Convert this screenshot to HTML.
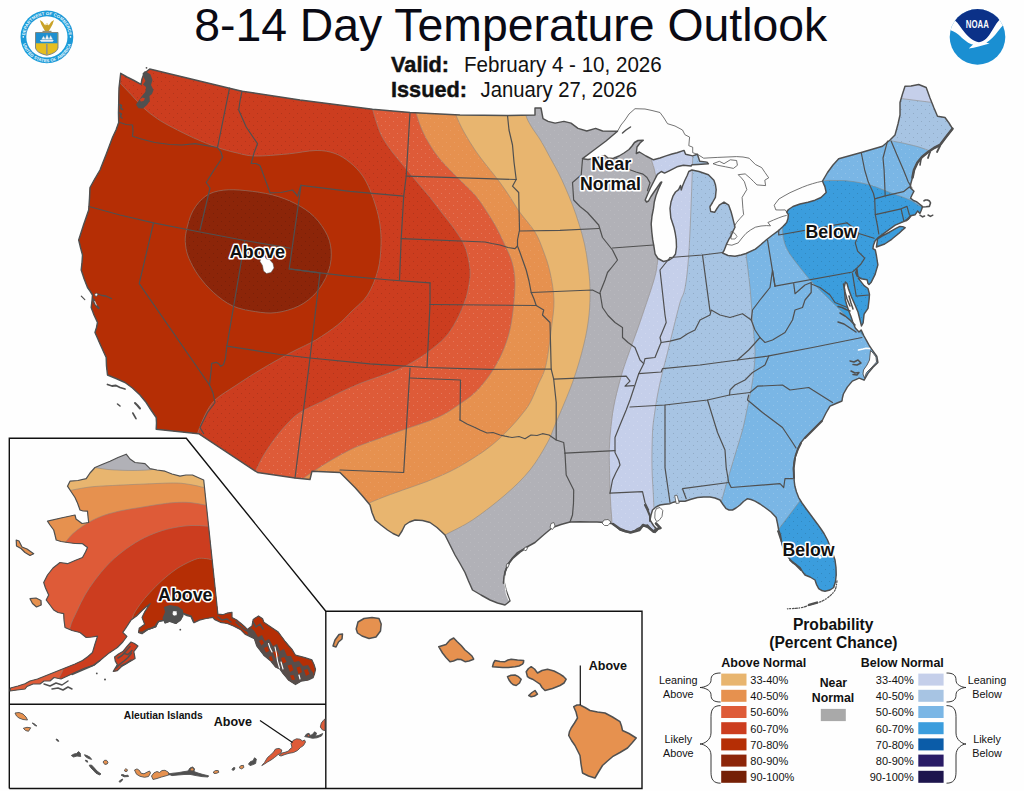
<!DOCTYPE html>
<html><head><meta charset="utf-8"><title>8-14 Day Temperature Outlook</title>
<style>html,body{margin:0;padding:0;background:#fefefe;overflow:hidden}svg{display:block}text{font-family:"Liberation Sans",sans-serif}</style></head><body>
<svg width="1024" height="791" viewBox="0 0 1024 791">
<defs>
<clipPath id="us"><path d="M120.7,73.3 L127.0,77.0 L134.0,80.5 L141.0,84.3 L142.0,79.0 L144.0,73.5 L149.7,69.0 L229.5,88.2 L242.0,91.2 L300.0,100.0 L372.5,109.2 L410.0,112.5 L460.0,115.0 L507.5,115.5 L535.0,115.0 L535.0,108.0 L541.0,108.0 L543.0,118.7 L548.1,121.4 L555.1,123.1 L563.9,121.4 L571.0,123.1 L578.0,128.4 L586.8,131.0 L595.6,128.4 L602.6,131.0 L617.5,131.2 L606.0,141.0 L594.0,150.0 L582.5,158.7 L588.0,159.5 L594.0,158.5 L600.0,157.0 L605.0,155.5 L608.0,158.0 L613.0,158.5 L619.0,156.0 L624.0,153.0 L629.0,149.5 L632.0,146.0 L634.5,142.5 L638.0,140.5 L643.3,140.2 L640.0,143.0 L637.0,147.0 L636.3,153.5 L639.4,152.0 L646.0,156.0 L653.5,159.8 L660.0,158.0 L666.0,155.9 L672.0,154.0 L677.0,152.7 L684.0,150.4 L685.6,154.3 L692.7,155.9 L697.4,154.3 L699.7,161.3 L706.8,162.1 L708.4,163.7 L697.4,164.5 L691.9,164.8 L691.1,166.0 L683.3,165.3 L677.0,166.8 L669.2,170.8 L664.5,173.1 L661.3,171.5 L657.4,174.3 L654.0,181.0 L650.4,188.0 L647.5,194.5 L645.2,200.0 L646.5,202.0 L648.5,201.0 L651.0,196.5 L654.0,192.0 L657.5,187.0 L660.6,182.5 L661.8,182.0 L658.5,189.0 L655.9,195.8 L654.3,202.0 L653.5,208.4 L652.0,216.0 L651.2,224.0 L651.8,232.0 L652.7,239.7 L654.0,247.0 L655.1,254.0 L658.0,258.5 L663.5,261.5 L668.5,260.3 L673.0,257.5 L675.5,254.0 L676.5,247.0 L676.2,239.7 L675.2,233.0 L673.9,227.2 L670.8,217.8 L670.0,208.4 L671.0,202.0 L673.1,195.8 L675.5,192.0 L678.6,189.6 L680.5,185.5 L681.2,190.0 L682.5,186.0 L684.9,180.2 L687.2,175.5 L688.8,171.5 L691.9,170.0 L699.0,171.5 L708.4,174.7 L713.9,180.2 L715.5,185.0 L716.2,189.6 L715.4,197.4 L712.5,202.5 L709.9,206.8 L710.7,211.5 L714.6,212.3 L717.0,208.5 L719.3,205.2 L724.0,202.1 L728.7,205.2 L731.0,211.5 L732.7,217.8 L735.0,227.2 L732.7,231.9 L731.0,236.0 L728.7,239.7 L726.4,244.4 L724.0,250.7 L722.5,253.0 L728.0,255.5 L735.0,256.2 L741.0,255.0 L746.0,253.5 L755.4,249.1 L761.0,244.5 L766.4,239.7 L772.5,235.0 L778.9,230.3 L783.0,226.5 L786.7,222.5 L788.0,218.5 L788.3,214.6 L786.7,212.0 L788.5,209.5 L793.0,206.5 L800.0,204.0 L808.0,202.2 L815.0,200.2 L821.0,197.5 L826.2,192.5 L825.0,187.0 L822.5,181.2 L827.5,172.5 L833.0,165.0 L838.7,158.7 L861.2,152.5 L882.5,146.2 L890.0,140.0 L895.0,135.0 L898.0,124.0 L900.0,115.0 L900.0,102.5 L902.5,94.0 L905.0,86.2 L911.0,86.0 L918.7,84.5 L926.2,87.5 L930.0,98.0 L934.0,108.0 L937.5,116.2 L945.0,117.5 L949.0,123.0 L952.5,128.7 L946.0,137.0 L940.0,145.0 L934.0,148.0 L927.5,152.5 L922.0,157.0 L917.5,162.5 L914.0,170.0 L912.5,177.5 L911.0,183.0 L910.0,187.5 L914.0,191.2 L912.0,195.0 L910.5,198.2 L913.5,200.5 L916.4,201.7 L919.5,204.0 L922.3,206.4 L922.3,207.6 L921.0,211.0 L919.9,213.5 L917.6,211.1 L915.2,214.7 L910.5,215.8 L908.2,219.4 L903.5,221.7 L895.2,225.2 L887.0,231.1 L878.8,237.0 L875.3,240.5 L873.5,245.0 L872.9,248.7 L875.3,250.0 L876.5,256.0 L877.6,263.0 L877.9,264.9 L875.0,274.7 L871.0,282.6 L869.0,284.6 L868.0,283.6 L867.1,279.7 L861.1,278.7 L857.2,276.2 L855.7,272.8 L857.0,269.0 L857.5,274.0 L858.5,278.5 L860.2,280.6 L864.1,285.6 L868.0,288.5 L869.5,294.4 L869.0,300.4 L868.0,308.3 L864.1,314.2 L863.1,323.0 L861.5,326.0 L860.0,320.0 L858.0,312.0 L855.0,305.0 L851.5,297.0 L848.5,289.0 L847.0,283.5 L845.4,282.0 L844.3,287.0 L844.8,294.0 L845.3,300.0 L846.8,305.0 L848.8,311.0 L850.8,316.0 L852.8,322.0 L855.3,328.0 L859.0,332.0 L861.1,329.9 L864.0,336.0 L867.1,341.7 L869.5,346.0 L872.0,349.6 L876.9,356.5 L877.9,362.4 L873.0,367.3 L868.0,373.3 L864.1,380.2 L859.2,378.2 L852.3,381.1 L847.3,387.1 L843.4,394.0 L842.4,398.0 L842.0,401.0 L836.0,403.5 L830.0,406.2 L826.0,413.0 L822.5,420.0 L816.0,426.5 L810.0,432.5 L805.0,437.5 L801.0,442.5 L798.5,447.5 L796.8,452.1 L795.0,458.0 L793.9,463.5 L793.5,469.0 L793.9,474.9 L794.2,481.0 L794.9,486.3 L796.5,492.0 L798.7,497.6 L802.0,503.0 L806.3,509.0 L811.5,516.0 L817.6,524.2 L821.0,529.0 L824.0,533.5 L827.5,540.0 L831.5,550.0 L835.0,560.0 L836.0,567.5 L836.2,575.0 L835.5,581.5 L833.7,587.5 L830.0,590.0 L825.0,591.2 L821.5,590.5 L818.7,588.7 L816.5,584.5 L815.0,580.0 L810.0,577.0 L805.0,575.0 L802.0,571.0 L800.0,567.5 L796.0,564.5 L792.5,562.5 L788.5,557.5 L785.0,552.5 L782.5,546.0 L781.2,540.0 L780.5,535.0 L778.7,530.0 L777.5,523.5 L776.2,517.5 L771.0,512.0 L765.0,507.5 L760.0,504.0 L755.0,501.2 L751.0,499.5 L747.5,498.7 L743.5,501.5 L740.0,505.0 L736.0,508.0 L732.5,510.0 L729.0,510.0 L726.2,508.7 L723.0,504.5 L720.0,500.0 L715.0,498.0 L710.0,497.0 L703.5,497.0 L697.5,497.5 L691.0,499.2 L685.0,501.2 L677.5,501.2 L673.5,502.2 L670.0,503.7 L665.0,504.2 L660.0,505.0 L656.0,507.0 L652.5,510.0 L651.0,515.0 L650.0,520.0 L653.5,525.5 L657.5,530.0 L655.0,532.5 L651.0,529.0 L647.5,525.0 L642.5,526.5 L637.5,528.7 L634.0,531.0 L630.0,532.5 L625.0,531.5 L620.0,530.0 L616.0,526.5 L612.5,523.7 L605.0,522.5 L597.0,522.0 L590.0,522.0 L580.0,521.8 L570.0,522.0 L561.0,524.5 L552.5,527.5 L543.5,535.0 L535.0,542.5 L526.0,547.5 L517.5,552.5 L512.0,558.5 L507.5,565.0 L505.0,572.5 L503.7,580.0 L506.0,590.0 L510.0,601.0 L505.0,605.0 L497.5,603.0 L490.0,600.0 L481.0,595.0 L472.5,590.0 L468.5,581.0 L465.0,572.5 L460.0,563.5 L455.0,555.0 L450.0,545.0 L445.0,535.0 L437.0,527.5 L430.0,522.5 L422.5,520.5 L415.0,520.0 L409.5,522.0 L405.0,525.0 L402.0,531.0 L398.7,536.2 L393.0,533.5 L387.5,530.0 L381.0,525.0 L375.0,520.0 L372.0,512.5 L370.0,505.0 L362.5,496.0 L355.0,487.5 L347.5,480.0 L340.0,472.5 L312.0,471.2 L310.0,479.5 L295.0,478.0 L257.5,472.5 L198.7,433.7 L156.2,429.2 L156.5,423.0 L156.2,417.5 L151.0,410.0 L146.2,402.5 L140.0,395.0 L132.5,388.0 L125.0,382.5 L116.0,378.5 L107.5,375.0 L106.5,366.0 L106.2,357.5 L100.5,345.0 L95.0,332.5 L96.5,327.5 L97.5,322.5 L94.0,315.0 L91.2,307.5 L92.0,301.0 L92.5,295.0 L90.0,291.0 L87.5,287.5 L84.0,278.5 L81.2,270.0 L82.0,262.5 L82.5,255.0 L80.5,247.5 L78.7,240.0 L83.5,225.0 L88.7,210.0 L89.5,198.5 L90.0,187.5 L95.0,178.5 L100.0,170.0 L106.5,153.5 L112.5,137.5 L116.0,130.0 L118.7,122.5 L118.5,113.0 L118.7,103.7 L119.0,88.0Z M876.4,247.0 L877.6,238.9 L882.0,236.2 L887.0,233.5 L892.0,230.7 L896.4,228.2 L899.9,226.4 L902.5,226.6 L905.2,227.6 L902.0,230.5 L898.8,233.5 L895.0,236.5 L891.7,239.3 L884.7,244.0Z"/></clipPath>
<clipPath id="ak"><path d="M126.2,454.2 L130.0,459.0 L135.0,462.5 L145.0,463.7 L150.0,468.7 L157.0,470.0 L165.0,471.2 L172.0,474.0 L180.0,476.2 L186.0,475.0 L192.5,475.0 L198.0,477.5 L203.7,480.0 L217.9,614.1 L222.6,614.7 L227.0,613.2 L232.0,612.3 L232.0,617.6 L236.7,620.0 L241.0,623.5 L245.0,627.0 L247.3,629.4 L252.0,625.9 L253.2,619.4 L258.5,615.9 L262.6,618.8 L263.8,622.3 L270.8,627.0 L277.9,631.7 L281.5,636.5 L284.9,641.1 L288.5,645.5 L292.0,649.4 L295.5,655.2 L304.9,657.6 L311.9,659.9 L314.0,664.5 L315.5,669.3 L314.5,674.0 L313.1,677.6 L308.4,679.9 L301.4,681.1 L295.5,684.6 L288.4,679.9 L282.6,672.9 L280.2,669.3 L275.5,667.0 L270.8,661.1 L263.8,655.2 L256.7,645.8 L254.4,638.8 L245.0,634.1 L240.3,629.4 L233.5,626.0 L227.3,623.5 L220.3,622.3 L214.4,619.4 L213.1,617.4 L206.0,618.5 L199.4,620.1 L194.0,622.8 L191.2,616.0 L183.0,613.3 L181.0,619.0 L176.0,623.5 L170.0,621.0 L165.5,623.0 L163.9,620.1 L158.4,621.5 L155.7,626.9 L147.5,629.7 L142.0,633.8 L138.6,632.4 L139.2,628.3 L144.7,624.2 L142.0,617.4 L144.7,611.9 L150.2,603.7 L146.0,607.0 L142.0,610.5 L136.5,616.0 L131.0,620.1 L125.6,628.3 L122.8,632.4 L126.9,636.5 L122.8,642.0 L117.4,647.5 L109.2,652.9 L100.9,659.8 L94.1,665.2 L85.0,668.0 L76.0,672.0 L67.5,676.0 L61.0,679.0 L54.0,677.5 L50.0,681.0 L44.0,681.0 L40.0,684.0 L33.0,684.0 L27.0,686.5 L25.0,689.0 L17.0,690.0 L10.0,691.0 L10.5,688.0 L18.0,686.0 L25.0,683.7 L30.0,681.0 L37.5,679.0 L45.0,676.0 L52.5,673.0 L60.0,670.0 L67.5,667.0 L75.0,664.0 L82.5,660.5 L88.0,656.5 L92.5,652.5 L95.0,644.0 L97.5,636.2 L92.0,637.0 L86.2,637.5 L80.0,632.5 L72.0,630.5 L65.0,627.5 L64.0,620.0 L63.7,613.7 L58.0,612.5 L53.7,610.0 L50.0,605.0 L46.2,600.0 L48.7,595.0 L45.5,588.0 L43.7,582.5 L47.5,575.0 L53.0,568.0 L60.0,562.5 L67.5,563.7 L75.0,560.5 L82.5,557.5 L85.5,552.0 L87.5,547.5 L82.5,543.7 L75.0,543.5 L67.5,542.5 L61.0,541.5 L56.2,540.0 L55.0,535.0 L53.7,530.0 L50.0,525.0 L47.5,521.2 L61.0,518.0 L75.0,515.0 L76.0,519.0 L82.0,523.5 L88.7,522.5 L88.0,516.5 L87.5,511.2 L83.0,511.0 L80.0,510.0 L77.5,503.0 L75.0,497.5 L71.0,491.5 L67.5,486.2 L70.0,481.2 L78.0,480.5 L86.2,478.7 L90.0,473.0 L95.0,467.5 L102.0,464.5 L110.0,461.2 L118.0,457.5Z M16.2,540.0 L19.0,541.0 L22.0,547.0 L27.0,549.0 L33.7,553.7 L30.0,555.5 L25.0,552.5 L21.0,548.5 L16.5,546.0Z M30.0,598.7 L36.0,598.0 L41.0,600.5 L41.2,605.0 L36.5,607.0 L32.5,603.5Z M114.6,657.0 L118.5,654.0 L122.8,651.6 L127.0,646.5 L131.0,642.0 L134.5,643.5 L137.9,646.1 L133.8,651.6 L135.1,658.4 L128.3,662.5 L121.5,666.6 L117.4,670.7 L113.3,671.4 L117.4,664.6 L115.3,661.1Z"/></clipPath>
<pattern id="pl" width="8" height="8" patternUnits="userSpaceOnUse"><rect x="1" y="1" width="1" height="1" fill="#fff" fill-opacity="0.17"/><rect x="5" y="5" width="1" height="1" fill="#fff" fill-opacity="0.17"/></pattern>
<pattern id="pd" width="8" height="8" patternUnits="userSpaceOnUse"><rect x="1" y="1" width="1" height="1" fill="#000" fill-opacity="0.13"/><rect x="5" y="5" width="1" height="1" fill="#000" fill-opacity="0.13"/></pattern>
<pattern id="pm" width="8" height="8" patternUnits="userSpaceOnUse"><rect x="1" y="1" width="1" height="1" fill="#000" fill-opacity="0.13"/><rect x="5" y="5" width="1" height="1" fill="#000" fill-opacity="0.13"/><rect x="3" y="7" width="1" height="1" fill="#fff" fill-opacity="0.13"/><rect x="7" y="3" width="1" height="1" fill="#fff" fill-opacity="0.13"/></pattern>
<pattern id="pf" width="8" height="8" patternUnits="userSpaceOnUse"><rect x="2" y="2" width="1" height="1" fill="#fff" fill-opacity="0.1"/><rect x="6" y="6" width="1" height="1" fill="#fff" fill-opacity="0.1"/></pattern>
</defs>
<rect x="0" y="0" width="1024" height="791" fill="#fefefe"/>
<g clip-path="url(#us)">
<rect x="60" y="50" width="920" height="580" fill="#b1b1b7"/>
<rect x="60" y="50" width="920" height="580" fill="url(#pf)"/>
<path d="M523.0,100.0 C523.5,102.6 524.7,111.2 526.0,115.5 C527.3,119.8 528.5,121.8 531.0,126.0 C533.5,130.2 537.9,135.9 541.0,141.0 C544.1,146.1 546.7,151.3 549.5,156.5 C552.3,161.7 555.3,166.8 558.0,172.0 C560.7,177.2 563.1,182.5 565.5,188.0 C567.9,193.5 570.2,199.0 572.5,205.0 C574.8,211.0 577.0,217.5 579.0,224.0 C581.0,230.5 583.0,237.2 584.5,244.0 C586.0,250.8 587.1,257.7 588.0,265.0 C588.9,272.3 589.8,279.7 590.0,288.0 C590.2,296.3 590.0,305.5 589.0,315.0 C588.0,324.5 586.5,333.8 583.7,345.0 C581.0,356.2 577.3,369.2 572.5,382.5 C567.7,395.8 559.2,415.0 555.0,425.0 C550.8,435.0 551.7,435.0 547.5,442.5 C543.3,450.0 537.1,461.2 530.0,470.0 C522.9,478.8 514.6,486.7 505.0,495.0 C495.4,503.3 482.5,513.3 472.5,520.0 C462.5,526.7 452.9,530.5 445.0,535.0 C437.1,539.5 428.3,545.0 425.0,547.0 L425.0,700.0 L0.0,700.0 L0.0,0.0 L523.0,0.0Z" fill="#e8b56f" stroke="#8e8780" stroke-opacity="0.8" stroke-width="0.7"/>
<path d="M452.0,100.0 C452.7,102.5 454.0,109.7 456.0,115.0 C458.0,120.3 460.8,126.2 464.0,132.0 C467.2,137.8 471.2,144.3 475.0,150.0 C478.8,155.7 482.8,160.6 487.0,166.0 C491.2,171.4 496.2,177.3 500.0,182.5 C503.8,187.7 506.7,192.0 510.0,197.0 C513.3,202.0 515.8,206.7 520.0,212.5 C524.2,218.3 531.2,225.8 535.0,232.0 C538.8,238.2 540.5,243.3 543.0,250.0 C545.5,256.7 548.2,263.7 550.0,272.0 C551.8,280.3 553.8,290.8 554.0,300.0 C554.2,309.2 552.8,316.7 551.5,327.5 C550.2,338.3 548.2,355.4 546.0,365.0 C543.8,374.6 540.7,378.7 538.0,385.0 C535.3,391.3 532.8,397.9 530.0,403.0 C527.2,408.1 524.2,411.5 521.0,415.5 C517.8,419.5 514.7,423.1 511.0,427.0 C507.3,430.9 503.2,435.2 499.0,439.0 C494.8,442.8 490.7,446.2 485.5,450.0 C480.3,453.8 473.9,457.9 468.0,461.5 C462.1,465.1 456.8,468.2 450.0,471.5 C443.2,474.8 434.8,478.4 427.0,481.5 C419.2,484.6 410.8,487.2 403.0,490.0 C395.2,492.8 386.3,496.0 380.0,498.5 C373.7,501.0 370.0,502.6 365.0,505.0 C360.0,507.4 352.5,511.7 350.0,513.0 L350.0,700.0 L0.0,700.0 L0.0,0.0 L452.0,0.0Z" fill="#e6914f" stroke="#8e8780" stroke-opacity="0.8" stroke-width="0.7"/>
<path d="M452.0,100.0 C452.7,102.5 454.0,109.7 456.0,115.0 C458.0,120.3 460.8,126.2 464.0,132.0 C467.2,137.8 471.2,144.3 475.0,150.0 C478.8,155.7 482.8,160.6 487.0,166.0 C491.2,171.4 496.2,177.3 500.0,182.5 C503.8,187.7 506.7,192.0 510.0,197.0 C513.3,202.0 515.8,206.7 520.0,212.5 C524.2,218.3 531.2,225.8 535.0,232.0 C538.8,238.2 540.5,243.3 543.0,250.0 C545.5,256.7 548.2,263.7 550.0,272.0 C551.8,280.3 553.8,290.8 554.0,300.0 C554.2,309.2 552.8,316.7 551.5,327.5 C550.2,338.3 548.2,355.4 546.0,365.0 C543.8,374.6 540.7,378.7 538.0,385.0 C535.3,391.3 532.8,397.9 530.0,403.0 C527.2,408.1 524.2,411.5 521.0,415.5 C517.8,419.5 514.7,423.1 511.0,427.0 C507.3,430.9 503.2,435.2 499.0,439.0 C494.8,442.8 490.7,446.2 485.5,450.0 C480.3,453.8 473.9,457.9 468.0,461.5 C462.1,465.1 456.8,468.2 450.0,471.5 C443.2,474.8 434.8,478.4 427.0,481.5 C419.2,484.6 410.8,487.2 403.0,490.0 C395.2,492.8 386.3,496.0 380.0,498.5 C373.7,501.0 370.0,502.6 365.0,505.0 C360.0,507.4 352.5,511.7 350.0,513.0 L350.0,700.0 L0.0,700.0 L0.0,0.0 L452.0,0.0Z" fill="url(#pf)"/>
<path d="M412.0,100.0 C412.7,102.2 414.3,108.0 416.0,113.0 C417.7,118.0 419.7,124.7 422.0,130.0 C424.3,135.3 427.2,140.3 430.0,145.0 C432.8,149.7 435.7,153.8 439.0,158.0 C442.3,162.2 446.2,166.0 450.0,170.0 C453.8,174.0 457.8,177.8 462.0,182.0 C466.2,186.2 471.2,190.5 475.0,195.0 C478.8,199.5 481.7,204.0 485.0,209.0 C488.3,214.0 491.8,219.3 495.0,225.0 C498.2,230.7 501.2,236.8 504.0,243.0 C506.8,249.2 510.2,255.3 512.0,262.0 C513.8,268.7 514.9,274.2 515.0,283.0 C515.1,291.8 513.7,306.0 512.5,315.0 C511.3,324.0 510.1,329.9 508.0,337.0 C505.9,344.1 503.2,351.0 500.0,357.5 C496.8,364.0 493.2,370.2 489.0,376.0 C484.8,381.8 480.3,387.5 475.0,392.5 C469.7,397.5 463.2,401.8 457.0,406.0 C450.8,410.2 446.5,413.5 437.5,417.5 C428.5,421.5 412.9,426.4 403.0,430.0 C393.1,433.6 386.0,436.1 378.0,439.0 C370.0,441.9 362.2,444.3 355.0,447.5 C347.8,450.7 341.2,454.5 335.0,458.0 C328.8,461.5 324.2,464.4 317.5,468.7 C310.8,473.0 298.8,481.4 295.0,484.0 L295.0,700.0 L0.0,700.0 L0.0,0.0 L412.0,0.0Z" fill="#de5b38" stroke="#8e8780" stroke-opacity="0.8" stroke-width="0.7"/>
<path d="M412.0,100.0 C412.7,102.2 414.3,108.0 416.0,113.0 C417.7,118.0 419.7,124.7 422.0,130.0 C424.3,135.3 427.2,140.3 430.0,145.0 C432.8,149.7 435.7,153.8 439.0,158.0 C442.3,162.2 446.2,166.0 450.0,170.0 C453.8,174.0 457.8,177.8 462.0,182.0 C466.2,186.2 471.2,190.5 475.0,195.0 C478.8,199.5 481.7,204.0 485.0,209.0 C488.3,214.0 491.8,219.3 495.0,225.0 C498.2,230.7 501.2,236.8 504.0,243.0 C506.8,249.2 510.2,255.3 512.0,262.0 C513.8,268.7 514.9,274.2 515.0,283.0 C515.1,291.8 513.7,306.0 512.5,315.0 C511.3,324.0 510.1,329.9 508.0,337.0 C505.9,344.1 503.2,351.0 500.0,357.5 C496.8,364.0 493.2,370.2 489.0,376.0 C484.8,381.8 480.3,387.5 475.0,392.5 C469.7,397.5 463.2,401.8 457.0,406.0 C450.8,410.2 446.5,413.5 437.5,417.5 C428.5,421.5 412.9,426.4 403.0,430.0 C393.1,433.6 386.0,436.1 378.0,439.0 C370.0,441.9 362.2,444.3 355.0,447.5 C347.8,450.7 341.2,454.5 335.0,458.0 C328.8,461.5 324.2,464.4 317.5,468.7 C310.8,473.0 298.8,481.4 295.0,484.0 L295.0,700.0 L0.0,700.0 L0.0,0.0 L412.0,0.0Z" fill="url(#pl)"/>
<path d="M370.0,98.0 C370.4,99.8 371.3,104.7 372.5,109.0 C373.7,113.3 375.3,119.2 377.0,124.0 C378.7,128.8 379.8,132.7 382.5,137.5 C385.2,142.3 389.2,148.0 393.0,153.0 C396.8,158.0 401.0,162.7 405.0,167.5 C409.0,172.3 412.8,177.0 417.0,182.0 C421.2,187.0 425.8,192.3 430.0,197.5 C434.2,202.7 437.8,207.6 442.0,213.0 C446.2,218.4 451.2,224.3 455.0,230.0 C458.8,235.7 462.5,240.3 465.0,247.0 C467.5,253.7 469.5,262.8 470.0,270.0 C470.5,277.2 469.2,283.8 468.0,290.0 C466.8,296.2 464.7,302.0 462.5,307.5 C460.3,313.0 457.9,318.0 455.0,323.0 C452.1,328.0 449.5,332.7 445.0,337.5 C440.5,342.3 434.2,347.4 428.0,352.0 C421.8,356.6 414.7,361.2 407.5,365.0 C400.3,368.8 392.5,371.6 385.0,374.5 C377.5,377.4 369.5,379.8 362.5,382.5 C355.5,385.2 349.2,388.1 343.0,391.0 C336.8,393.9 332.2,396.4 325.0,400.0 C317.8,403.6 306.3,408.5 300.0,412.5 C293.7,416.5 291.0,419.9 287.0,424.0 C283.0,428.1 279.7,432.2 276.0,437.0 C272.3,441.8 268.2,447.8 265.0,453.0 C261.8,458.2 259.5,462.7 257.0,468.0 C254.5,473.3 251.2,482.2 250.0,485.0 L250.0,700.0 L0.0,700.0 L0.0,0.0 L370.0,0.0Z" fill="#cc3d1f" stroke="#8e8780" stroke-opacity="0.8" stroke-width="0.7"/>
<path d="M370.0,98.0 C370.4,99.8 371.3,104.7 372.5,109.0 C373.7,113.3 375.3,119.2 377.0,124.0 C378.7,128.8 379.8,132.7 382.5,137.5 C385.2,142.3 389.2,148.0 393.0,153.0 C396.8,158.0 401.0,162.7 405.0,167.5 C409.0,172.3 412.8,177.0 417.0,182.0 C421.2,187.0 425.8,192.3 430.0,197.5 C434.2,202.7 437.8,207.6 442.0,213.0 C446.2,218.4 451.2,224.3 455.0,230.0 C458.8,235.7 462.5,240.3 465.0,247.0 C467.5,253.7 469.5,262.8 470.0,270.0 C470.5,277.2 469.2,283.8 468.0,290.0 C466.8,296.2 464.7,302.0 462.5,307.5 C460.3,313.0 457.9,318.0 455.0,323.0 C452.1,328.0 449.5,332.7 445.0,337.5 C440.5,342.3 434.2,347.4 428.0,352.0 C421.8,356.6 414.7,361.2 407.5,365.0 C400.3,368.8 392.5,371.6 385.0,374.5 C377.5,377.4 369.5,379.8 362.5,382.5 C355.5,385.2 349.2,388.1 343.0,391.0 C336.8,393.9 332.2,396.4 325.0,400.0 C317.8,403.6 306.3,408.5 300.0,412.5 C293.7,416.5 291.0,419.9 287.0,424.0 C283.0,428.1 279.7,432.2 276.0,437.0 C272.3,441.8 268.2,447.8 265.0,453.0 C261.8,458.2 259.5,462.7 257.0,468.0 C254.5,473.3 251.2,482.2 250.0,485.0 L250.0,700.0 L0.0,700.0 L0.0,0.0 L370.0,0.0Z" fill="url(#pd)"/>
<path d="M100.0,63.0 C101.7,64.7 106.8,69.8 110.0,73.0 C113.2,76.2 115.5,78.4 119.0,82.0 C122.5,85.6 126.9,90.2 131.0,94.5 C135.1,98.8 139.1,103.8 143.4,107.8 C147.7,111.8 152.2,115.2 157.0,118.5 C161.8,121.8 166.2,124.2 172.5,127.5 C178.8,130.8 187.5,135.2 195.0,138.5 C202.5,141.8 210.8,145.2 217.5,147.5 C224.2,149.8 228.8,151.1 235.0,152.5 C241.2,153.9 246.2,155.8 255.0,156.0 C263.8,156.2 277.3,154.9 287.5,154.0 C297.7,153.1 308.1,150.6 316.0,150.5 C323.9,150.4 329.3,151.5 335.0,153.5 C340.7,155.5 345.5,158.9 350.0,162.5 C354.5,166.1 358.7,170.4 362.0,175.0 C365.3,179.6 367.7,184.7 370.0,190.0 C372.3,195.3 374.3,201.2 376.0,207.0 C377.7,212.8 379.2,218.7 380.0,225.0 C380.8,231.3 381.3,237.5 381.0,245.0 C380.7,252.5 380.2,261.7 378.0,270.0 C375.8,278.3 371.8,288.2 367.5,295.0 C363.2,301.8 357.0,306.0 352.0,311.0 C347.0,316.0 343.6,320.2 337.5,325.0 C331.4,329.8 323.6,335.3 315.7,340.0 C307.8,344.7 299.3,348.0 290.0,353.0 C280.7,358.0 269.2,364.5 260.0,370.0 C250.8,375.5 242.5,381.0 235.0,386.0 C227.5,391.0 220.0,395.2 215.0,400.0 C210.0,404.8 207.8,409.7 205.0,415.0 C202.2,420.3 200.2,426.2 198.0,432.0 C195.8,437.8 193.0,447.0 192.0,450.0 L192.0,700.0 L0.0,700.0 L0.0,0.0 L100.0,0.0Z" fill="#b52e05" stroke="#8e8780" stroke-opacity="0.8" stroke-width="0.7"/>
<path d="M185.6,245.2 C185.1,240.8 184.9,237.6 186.1,231.9 C187.3,226.2 189.5,217.0 192.8,211.0 C196.1,205.0 200.9,199.4 206.0,195.9 C211.1,192.4 216.4,191.1 223.1,190.2 C229.8,189.3 237.7,189.8 245.9,190.6 C254.1,191.4 264.3,192.8 272.5,194.9 C280.7,197.1 288.2,199.9 295.2,203.5 C302.1,207.1 308.8,211.3 314.2,216.7 C319.6,222.1 324.6,229.4 327.5,235.7 C330.4,242.0 331.3,248.4 331.3,254.7 C331.3,261.0 330.0,267.4 327.5,273.7 C325.0,280.0 320.9,287.2 316.1,292.6 C311.4,298.0 305.6,302.6 299.0,305.9 C292.4,309.2 283.6,311.7 276.3,312.6 C269.0,313.6 262.7,312.7 255.4,311.6 C248.1,310.5 239.6,309.1 232.6,305.9 C225.6,302.7 219.3,297.7 213.6,292.6 C207.9,287.6 202.6,281.3 198.5,275.6 C194.4,269.9 191.2,263.6 189.0,258.5 C186.8,253.4 186.1,249.6 185.6,245.2Z" fill="#8c2509" stroke="#8e8780" stroke-opacity="0.8" stroke-width="0.7"/>
<path d="M185.6,245.2 C185.1,240.8 184.9,237.6 186.1,231.9 C187.3,226.2 189.5,217.0 192.8,211.0 C196.1,205.0 200.9,199.4 206.0,195.9 C211.1,192.4 216.4,191.1 223.1,190.2 C229.8,189.3 237.7,189.8 245.9,190.6 C254.1,191.4 264.3,192.8 272.5,194.9 C280.7,197.1 288.2,199.9 295.2,203.5 C302.1,207.1 308.8,211.3 314.2,216.7 C319.6,222.1 324.6,229.4 327.5,235.7 C330.4,242.0 331.3,248.4 331.3,254.7 C331.3,261.0 330.0,267.4 327.5,273.7 C325.0,280.0 320.9,287.2 316.1,292.6 C311.4,298.0 305.6,302.6 299.0,305.9 C292.4,309.2 283.6,311.7 276.3,312.6 C269.0,313.6 262.7,312.7 255.4,311.6 C248.1,310.5 239.6,309.1 232.6,305.9 C225.6,302.7 219.3,297.7 213.6,292.6 C207.9,287.6 202.6,281.3 198.5,275.6 C194.4,269.9 191.2,263.6 189.0,258.5 C186.8,253.4 186.1,249.6 185.6,245.2Z" fill="url(#pd)"/>
<path d="M649.0,135.0 C649.3,138.7 650.0,150.8 651.0,157.0 C652.0,163.2 653.7,165.3 655.0,172.5 C656.3,179.7 658.2,190.4 659.0,200.0 C659.8,209.6 660.2,219.6 660.0,230.0 C659.8,240.4 658.5,254.2 657.5,262.5 C656.5,270.8 656.1,272.5 654.0,280.0 C651.9,287.5 647.7,299.5 645.0,307.5 C642.3,315.5 640.5,320.9 638.0,328.0 C635.5,335.1 632.5,343.0 630.0,350.0 C627.5,357.0 625.1,363.3 623.0,370.0 C620.9,376.7 619.1,383.7 617.5,390.0 C615.9,396.3 614.5,402.2 613.5,408.0 C612.5,413.8 611.9,418.7 611.2,425.0 C610.5,431.3 609.8,439.0 609.5,446.0 C609.2,453.0 609.3,458.0 609.5,467.0 C609.7,476.0 610.1,490.8 610.5,500.0 C610.9,509.2 611.6,515.0 612.0,522.5 C612.4,530.0 612.8,541.2 613.0,545.0 L613.0,700.0 L1024.0,700.0 L1024.0,0.0 L649.0,0.0Z" fill="#c5cfea" stroke="#8e8780" stroke-opacity="0.8" stroke-width="0.7"/>
<path d="M649.0,135.0 C649.3,138.7 650.0,150.8 651.0,157.0 C652.0,163.2 653.7,165.3 655.0,172.5 C656.3,179.7 658.2,190.4 659.0,200.0 C659.8,209.6 660.2,219.6 660.0,230.0 C659.8,240.4 658.5,254.2 657.5,262.5 C656.5,270.8 656.1,272.5 654.0,280.0 C651.9,287.5 647.7,299.5 645.0,307.5 C642.3,315.5 640.5,320.9 638.0,328.0 C635.5,335.1 632.5,343.0 630.0,350.0 C627.5,357.0 625.1,363.3 623.0,370.0 C620.9,376.7 619.1,383.7 617.5,390.0 C615.9,396.3 614.5,402.2 613.5,408.0 C612.5,413.8 611.9,418.7 611.2,425.0 C610.5,431.3 609.8,439.0 609.5,446.0 C609.2,453.0 609.3,458.0 609.5,467.0 C609.7,476.0 610.1,490.8 610.5,500.0 C610.9,509.2 611.6,515.0 612.0,522.5 C612.4,530.0 612.8,541.2 613.0,545.0 L613.0,700.0 L1024.0,700.0 L1024.0,0.0 L649.0,0.0Z" fill="url(#pl)"/>
<path d="M693.0,145.0 C692.9,148.1 692.8,154.1 692.5,163.7 C692.2,173.3 691.8,187.3 691.2,202.5 C690.6,217.7 689.7,240.8 688.7,255.0 C687.7,269.2 686.5,280.1 685.0,288.0 C683.5,295.9 681.9,295.8 680.0,302.5 C678.1,309.2 675.6,319.7 673.5,328.0 C671.4,336.3 669.4,344.8 667.5,352.5 C665.6,360.2 663.7,366.9 662.0,374.0 C660.3,381.1 658.8,388.3 657.5,395.0 C656.2,401.7 655.3,407.8 654.5,414.0 C653.7,420.2 652.9,423.6 652.5,432.5 C652.1,441.4 651.8,456.0 652.0,467.7 C652.2,479.4 653.2,489.6 653.7,502.5 C654.2,515.4 654.8,537.9 655.0,545.0 L655.0,700.0 L1024.0,700.0 L1024.0,0.0 L693.0,0.0Z" fill="#a7c4e3" stroke="#8e8780" stroke-opacity="0.8" stroke-width="0.7"/>
<path d="M693.0,145.0 C692.9,148.1 692.8,154.1 692.5,163.7 C692.2,173.3 691.8,187.3 691.2,202.5 C690.6,217.7 689.7,240.8 688.7,255.0 C687.7,269.2 686.5,280.1 685.0,288.0 C683.5,295.9 681.9,295.8 680.0,302.5 C678.1,309.2 675.6,319.7 673.5,328.0 C671.4,336.3 669.4,344.8 667.5,352.5 C665.6,360.2 663.7,366.9 662.0,374.0 C660.3,381.1 658.8,388.3 657.5,395.0 C656.2,401.7 655.3,407.8 654.5,414.0 C653.7,420.2 652.9,423.6 652.5,432.5 C652.1,441.4 651.8,456.0 652.0,467.7 C652.2,479.4 653.2,489.6 653.7,502.5 C654.2,515.4 654.8,537.9 655.0,545.0 L655.0,700.0 L1024.0,700.0 L1024.0,0.0 L693.0,0.0Z" fill="url(#pd)"/>
<path d="M970.0,168.0 C962.9,165.0 938.0,154.0 927.5,150.0 C917.0,146.0 913.7,145.7 907.0,144.0 C900.3,142.3 897.0,142.2 887.5,140.0 C878.0,137.8 864.6,130.5 850.0,131.0 C835.4,131.5 814.7,134.3 800.0,143.0 C785.3,151.7 771.2,169.3 762.0,183.0 C752.8,196.7 747.6,213.2 745.0,225.0 C742.4,236.8 745.7,246.2 746.2,253.7 C746.7,261.2 747.4,264.4 748.0,270.0 C748.6,275.6 749.2,279.2 750.0,287.5 C750.8,295.8 751.7,309.6 752.5,320.0 C753.3,330.4 754.8,341.3 755.0,350.0 C755.2,358.7 754.4,365.3 753.7,372.0 C753.0,378.7 752.0,384.2 751.0,390.0 C750.0,395.8 748.9,400.3 747.5,407.0 C746.1,413.7 744.6,422.0 742.5,430.0 C740.4,438.0 737.5,446.7 735.0,455.0 C732.5,463.3 729.6,472.9 727.5,480.0 C725.4,487.1 724.4,490.8 722.5,497.5 C720.6,504.2 717.1,516.2 716.0,520.0 L716.0,700.0 L1024.0,700.0 L1024.0,168.0Z" fill="#7ab6e5" stroke="#8e8780" stroke-opacity="0.8" stroke-width="0.7"/>
<path d="M970.0,168.0 C962.9,165.0 938.0,154.0 927.5,150.0 C917.0,146.0 913.7,145.7 907.0,144.0 C900.3,142.3 897.0,142.2 887.5,140.0 C878.0,137.8 864.6,130.5 850.0,131.0 C835.4,131.5 814.7,134.3 800.0,143.0 C785.3,151.7 771.2,169.3 762.0,183.0 C752.8,196.7 747.6,213.2 745.0,225.0 C742.4,236.8 745.7,246.2 746.2,253.7 C746.7,261.2 747.4,264.4 748.0,270.0 C748.6,275.6 749.2,279.2 750.0,287.5 C750.8,295.8 751.7,309.6 752.5,320.0 C753.3,330.4 754.8,341.3 755.0,350.0 C755.2,358.7 754.4,365.3 753.7,372.0 C753.0,378.7 752.0,384.2 751.0,390.0 C750.0,395.8 748.9,400.3 747.5,407.0 C746.1,413.7 744.6,422.0 742.5,430.0 C740.4,438.0 737.5,446.7 735.0,455.0 C732.5,463.3 729.6,472.9 727.5,480.0 C725.4,487.1 724.4,490.8 722.5,497.5 C720.6,504.2 717.1,516.2 716.0,520.0 L716.0,700.0 L1024.0,700.0 L1024.0,168.0Z" fill="url(#pl)"/>
<path d="M880,60 L970,60 L970,107 L932.5,102.5 L902.5,98.7 L880,96Z" fill="#c5cfea" stroke="#8e8780" stroke-opacity="0.8" stroke-width="0.7"/>
<path d="M875.0,350.0 C872.9,347.5 867.5,340.8 862.5,335.0 C857.5,329.2 850.4,320.8 845.0,315.0 C839.6,309.2 835.4,305.4 830.0,300.0 C824.6,294.6 817.5,287.9 812.5,282.5 C807.5,277.1 804.2,272.9 800.0,267.5 C795.8,262.1 790.3,255.4 787.5,250.0 C784.7,244.6 783.6,240.3 783.0,235.0 C782.4,229.7 782.0,224.2 784.0,218.0 C786.0,211.8 791.0,203.1 795.0,198.0 C799.0,192.9 803.4,190.3 808.0,187.5 C812.6,184.7 817.8,182.4 822.5,181.2 C827.2,180.0 831.4,180.5 836.0,180.5 C840.6,180.5 844.3,180.4 850.0,181.2 C855.7,181.9 863.3,183.1 870.0,185.0 C876.7,186.9 883.3,190.0 890.0,192.5 C896.7,195.0 905.0,197.8 910.0,200.0 C915.0,202.2 914.2,203.0 920.0,206.0 C925.8,209.0 935.8,213.2 945.0,218.0 C954.2,222.8 970.0,232.2 975.0,235.0 L1024.0,235.0 L1024.0,350.0Z" fill="#3b9ddd" stroke="#8e8780" stroke-opacity="0.8" stroke-width="0.7"/>
<path d="M875.0,350.0 C872.9,347.5 867.5,340.8 862.5,335.0 C857.5,329.2 850.4,320.8 845.0,315.0 C839.6,309.2 835.4,305.4 830.0,300.0 C824.6,294.6 817.5,287.9 812.5,282.5 C807.5,277.1 804.2,272.9 800.0,267.5 C795.8,262.1 790.3,255.4 787.5,250.0 C784.7,244.6 783.6,240.3 783.0,235.0 C782.4,229.7 782.0,224.2 784.0,218.0 C786.0,211.8 791.0,203.1 795.0,198.0 C799.0,192.9 803.4,190.3 808.0,187.5 C812.6,184.7 817.8,182.4 822.5,181.2 C827.2,180.0 831.4,180.5 836.0,180.5 C840.6,180.5 844.3,180.4 850.0,181.2 C855.7,181.9 863.3,183.1 870.0,185.0 C876.7,186.9 883.3,190.0 890.0,192.5 C896.7,195.0 905.0,197.8 910.0,200.0 C915.0,202.2 914.2,203.0 920.0,206.0 C925.8,209.0 935.8,213.2 945.0,218.0 C954.2,222.8 970.0,232.2 975.0,235.0 L1024.0,235.0 L1024.0,350.0Z" fill="url(#pd)"/>
<path d="M812,485 L769,542 L760,640 L880,640 L880,485Z" fill="#3b9ddd" stroke="#8e8780" stroke-opacity="0.8" stroke-width="0.7"/>
<path d="M812,485 L769,542 L760,640 L880,640 L880,485Z" fill="url(#pd)"/>
</g>
<path d="M617.5,131.2 L621.0,125.0 L625.0,120.0 L629.0,114.0 L635.0,108.7 L645.0,109.0 L652.0,110.5 L660.0,112.5 L664.0,118.0 L667.5,123.7 L675.0,126.0 L682.5,130.0 L684.9,134.7 L689.6,137.1 L688.8,145.7 L692.7,147.2 L692.7,152.7 L697.4,154.3" fill="none" stroke="#505050" stroke-width="0.8" stroke-linejoin="round"/>
<path d="M697.4,154.3 L703.7,158.2 L710.0,157.8 L717.8,157.4 L727.0,157.0 L736.6,156.6 L743.0,157.0 L749.1,158.2 L755.4,164.5 L761.7,167.6 L765.0,172.5 L768.7,177.8 L764.8,180.2 L765.6,185.6 L757.0,184.9 L753.5,181.5 L750.7,178.6 L745.2,173.9 L738.2,174.7 L741.5,178.0 L744.4,181.7 L746.8,189.6 L742.1,197.4 L742.9,208.4 L743.6,214.6 L740.0,218.5 L736.6,222.5 L734.2,226.4" fill="none" stroke="#505050" stroke-width="0.8" stroke-linejoin="round"/>
<path d="M726.4,244.4 L731.9,245.2 L738.2,242.9 L742.0,238.0 L746.0,233.4 L750.5,230.0 L755.4,227.2 L761.0,226.0 L766.4,225.6 L770.5,225.8 L767.9,222.5 L773.5,220.0 L778.9,217.8 L783.0,216.3 L786.7,215.4" fill="none" stroke="#505050" stroke-width="0.8" stroke-linejoin="round"/>
<path d="M786.7,212.0 L785.2,209.9 L780.0,210.0 L775.8,209.9 L774.2,205.2 L778.9,199.0 L784.0,196.0 L790.0,192.7 L796.0,190.0 L802.5,187.2 L807.5,185.3 L812.5,183.7 L817.5,182.3 L822.5,181.2" fill="none" stroke="#505050" stroke-width="0.8" stroke-linejoin="round"/>
<path d="M713.0,163.7 L719.3,161.3 L724.0,163.7 L730.3,159.8 L736.6,160.5 L737.4,165.3 L733.4,168.4 L725.6,166.8 L717.8,165.3Z" fill="none" stroke="#505050" stroke-width="0.8" stroke-linejoin="round"/>
<path d="M731.0,231.5 L735.0,233.5 L737.0,236.5 L735.0,239.0 L731.0,239.0Z" fill="#fefefe" stroke="#505050" stroke-width="0.7"/>
<path d="M261.0,257.5 L264.5,256.0 L266.5,259.0 L269.5,259.5 L273.0,263.5 L274.0,268.0 L271.0,272.5 L266.5,273.5 L263.5,271.0 L262.5,265.5 L260.0,261.5Z" fill="#fefefe" stroke="#505050" stroke-width="0.5"/>
<g fill="none" stroke="#505050" stroke-width="1.2" stroke-linejoin="round" stroke-linecap="round">
<path d="M120.0,122.5 L126.0,124.5 L132.5,125.0 L133.0,131.0 L132.5,136.2 L143.0,139.5 L155.0,142.5 L170.0,144.5 L182.0,145.0 L195.0,143.7 L217.5,147.5"/>
<path d="M229.5,88.2 L217.5,147.5"/>
<path d="M217.5,147.5 L221.0,152.0 L222.5,157.5 L214.0,170.0 L206.2,182.5 L210.0,188.0 L200.0,230.0"/>
<path d="M89.0,206.5 L120.0,215.0 L153.5,222.8 L200.0,232.0 L244.8,240.5 L290.0,248.2"/>
<path d="M242.0,91.2 L240.0,101.0 L238.7,110.0 L246.2,127.0 L257.5,143.7 L254.0,153.0 L251.2,163.5 L256.0,163.5 L260.0,165.5 L265.0,179.0 L270.0,192.8 L281.0,192.5 L292.5,190.0 L297.5,196.0 L301.0,185.3"/>
<path d="M301.0,185.3 L289.2,268.9 L320.0,272.9 L310.0,358.0"/>
<path d="M301.0,185.3 L350.0,191.3 L403.7,196.2"/>
<path d="M410.0,112.5 L406.2,176.2 L403.7,196.2 L401.2,238.7 L399.5,280.0"/>
<path d="M406.2,176.2 L516.2,179.5"/>
<path d="M507.5,115.5 L509.0,130.0 L512.5,145.0 L514.0,162.0 L516.2,179.5"/>
<path d="M516.2,179.5 L512.5,186.2 L518.7,192.5 L519.5,230.0"/>
<path d="M519.5,231.0 L560.0,230.3 L598.7,228.5"/>
<path d="M519.5,230.0 L517.5,240.0 L517.5,246.0 L520.0,252.5 L523.0,261.0 L526.2,270.0 L529.0,281.0 L531.2,292.5 L534.0,299.0 L536.2,305.5"/>
<path d="M401.2,238.7 L485.0,242.0 L492.0,243.5 L500.0,245.0 L508.0,247.5 L515.0,248.7 L517.5,246.0"/>
<path d="M289.2,268.9 L320.0,272.9 L350.0,276.3 L390.0,280.0 L430.0,282.9"/>
<path d="M430.0,282.9 L430.0,304.5"/>
<path d="M430.0,304.5 L536.2,305.5"/>
<path d="M430.0,304.5 L427.0,367.5"/>
<path d="M244.8,240.5 L226.9,346.1"/>
<path d="M153.5,222.8 L139.2,283.7 L209.5,385.0"/>
<path d="M209.5,385.0 L211.2,370.0 L211.7,363.3 L216.3,362.3 L218.8,363.8 L220.8,366.3 L223.4,364.8 L225.4,358.8 L226.9,346.1"/>
<path d="M209.5,385.0 L213.0,393.0 L215.0,402.5 L207.5,412.5 L200.0,427.5 L203.7,433.7"/>
<path d="M226.9,346.1 L280.0,354.5 L310.0,358.0 L370.0,363.8 L427.0,367.5 L490.0,369.3 L551.2,369.2"/>
<path d="M310.0,358.0 L295.0,478.0"/>
<path d="M410.0,368.2 L403.7,472.5 L340.0,470.0"/>
<path d="M410.0,378.0 L460.5,380.0 L460.0,420.0"/>
<path d="M460.0,420.0 L467.0,424.0 L475.0,427.5 L480.0,430.0 L487.0,433.0 L493.0,432.5 L500.0,435.0 L505.0,436.2 L512.0,437.5 L519.0,436.5 L525.0,438.7 L531.0,435.0 L537.0,435.5 L542.5,433.7 L549.0,435.0 L556.2,440.0"/>
<path d="M536.2,305.5 L543.7,310.0 L542.5,315.0 L550.0,322.5 L551.2,369.2 L553.7,379.2 L556.2,402.5 L556.2,440.0 L563.7,442.5 L565.0,453.2"/>
<path d="M531.2,292.5 L592.5,290.0 L600.0,293.7"/>
<path d="M553.7,379.2 L626.2,376.2 L630.0,381.2 L625.0,386.2 L633.7,385.7"/>
<path d="M565.0,453.2 L615.0,450.7"/>
<path d="M565.0,453.2 L566.2,475.0 L573.7,490.0 L573.5,503.0 L572.5,515.0 L570.0,522.0"/>
<path d="M582.5,159.5 L581.2,175.0 L572.5,182.5 L573.7,200.0 L580.0,206.5 L587.5,212.5 L598.7,225.0 L602.5,237.5 L612.5,250.0 L617.5,260.0 L612.0,267.0 L607.5,272.5 L605.0,280.0 L600.0,292.5 L602.5,307.5 L608.0,315.5 L615.0,322.5 L622.5,327.5 L622.5,337.5 L628.0,342.5 L635.0,347.5 L640.0,360.0 L643.7,363.7 L638.7,373.7 L635.0,385.0 L630.0,400.0 L626.2,410.0 L620.0,425.0 L615.0,437.5 L615.0,452.5 L618.7,460.0 L620.0,465.0 L616.0,472.5 L612.5,480.0 L610.0,493.2"/>
<path d="M610.0,493.2 L642.5,491.7 L645.0,502.5 L648.7,510.0"/>
<path d="M612.5,248.0 L653.7,245.0"/>
<path d="M647.4,190.8 L650.0,182.9 L647.0,177.5 L643.0,174.1 L636.0,172.0 L629.8,169.7 L625.4,165.3 L620.0,160.5 L614.9,157.5"/>
<path d="M670.0,257.5 L660.0,270.0 L665.0,315.0 L666.2,322.5 L660.0,337.5 L661.2,342.5"/>
<path d="M670.0,257.5 L702.5,255.0 L722.5,252.5"/>
<path d="M702.5,255.0 L710.0,311.2"/>
<path d="M643.7,363.7 L645.0,358.7 L655.0,357.5 L660.0,345.0 L661.2,342.5 L670.0,341.2 L680.0,338.7 L687.5,333.7 L695.0,330.0 L700.0,320.0 L710.0,315.0 L711.2,310.0 L720.0,315.0 L730.0,317.5 L742.5,313.7 L751.2,320.0 L752.5,310.0 L760.0,300.0 L770.0,287.5 L772.5,270.0 L775.0,286.2"/>
<path d="M767.5,240.0 L775.0,286.2"/>
<path d="M775.0,286.2 L852.5,272.0 L856.2,268.7"/>
<path d="M852.5,273.7 L856.2,296.2 L868.7,295.0"/>
<path d="M847.0,222.9 L851.8,226.4 L858.8,233.5 L855.3,242.9 L857.6,251.1 L864.7,258.1 L861.0,264.0 L856.2,268.7"/>
<path d="M778.7,230.0 L778.7,235.0 L847.0,222.9"/>
<path d="M858.8,233.5 L874.1,238.2"/>
<path d="M793.7,283.7 L795.0,293.7 L805.0,285.0 L811.2,282.5 L811.2,292.5 L805.0,300.0 L802.5,307.5 L795.0,310.0 L792.5,320.0 L785.0,332.5 L772.5,340.0 L765.0,342.5 L760.0,337.5 L755.0,330.0 L751.2,320.0"/>
<path d="M811.2,284.0 L820.0,287.5 L830.0,295.0 L835.0,302.5 L847.5,307.5"/>
<path d="M760.0,337.5 L748.7,350.0 L737.5,360.0"/>
<path d="M638.7,373.7 L661.2,372.0 L662.5,368.7 L700.0,365.0 L737.5,360.0 L767.5,356.2 L812.5,347.5 L862.0,337.5"/>
<path d="M768.7,356.2 L765.0,365.0 L752.5,372.5 L745.0,380.0 L735.0,385.0 L730.0,390.0 L729.5,395.0"/>
<path d="M630.0,407.0 L665.0,405.0 L707.5,400.0 L729.5,395.0 L750.0,392.5"/>
<path d="M750.0,392.5 L757.5,386.2 L782.5,385.0 L790.0,390.0 L808.7,387.5 L832.5,402.5"/>
<path d="M748.7,395.0 L747.5,400.0 L762.5,412.5 L782.5,427.5 L792.5,442.5 L796.0,448.0"/>
<path d="M665.0,405.0 L665.0,467.7 L670.0,502.5"/>
<path d="M707.5,400.0 L717.5,432.5 L725.0,450.0 L726.2,467.5 L728.7,482.5"/>
<path d="M686.2,498.7 L682.5,488.7 L728.7,482.5"/>
<path d="M728.7,482.5 L731.2,487.5 L780.0,483.7 L783.7,487.5 L785.0,478.7 L792.5,478.7"/>
<path d="M861.2,152.5 L864.7,170.0 L868.2,181.8 L873.5,193.5 L874.7,198.8 L875.3,214.7 L877.6,226.4 L878.8,234.0"/>
<path d="M887.5,141.2 L883.0,158.0 L884.1,170.0 L885.2,195.9"/>
<path d="M891.2,141.2 L897.0,155.0 L903.5,170.0 L908.2,181.8 L911.0,186.5"/>
<path d="M874.7,198.8 L885.2,195.9 L903.5,191.7 L909.3,187.0 L912.0,188.0"/>
<path d="M875.3,214.7 L901.1,208.8 L907.0,206.4 L909.3,214.7"/>
<path d="M901.1,208.8 L904.0,221.7"/>
</g>
<path d="M120.7,73.3 L127.0,77.0 L134.0,80.5 L141.0,84.3 L142.0,79.0 L144.0,73.5 L149.7,69.0 L229.5,88.2 L242.0,91.2 L300.0,100.0 L372.5,109.2 L410.0,112.5 L460.0,115.0 L507.5,115.5 L535.0,115.0 L535.0,108.0 L541.0,108.0 L543.0,118.7 L548.1,121.4 L555.1,123.1 L563.9,121.4 L571.0,123.1 L578.0,128.4 L586.8,131.0 L595.6,128.4 L602.6,131.0 L617.5,131.2 L606.0,141.0 L594.0,150.0 L582.5,158.7 L588.0,159.5 L594.0,158.5 L600.0,157.0 L605.0,155.5 L608.0,158.0 L613.0,158.5 L619.0,156.0 L624.0,153.0 L629.0,149.5 L632.0,146.0 L634.5,142.5 L638.0,140.5 L643.3,140.2 L640.0,143.0 L637.0,147.0 L636.3,153.5 L639.4,152.0 L646.0,156.0 L653.5,159.8 L660.0,158.0 L666.0,155.9 L672.0,154.0 L677.0,152.7 L684.0,150.4 L685.6,154.3 L692.7,155.9 L697.4,154.3 L699.7,161.3 L706.8,162.1 L708.4,163.7 L697.4,164.5 L691.9,164.8 L691.1,166.0 L683.3,165.3 L677.0,166.8 L669.2,170.8 L664.5,173.1 L661.3,171.5 L657.4,174.3 L654.0,181.0 L650.4,188.0 L647.5,194.5 L645.2,200.0 L646.5,202.0 L648.5,201.0 L651.0,196.5 L654.0,192.0 L657.5,187.0 L660.6,182.5 L661.8,182.0 L658.5,189.0 L655.9,195.8 L654.3,202.0 L653.5,208.4 L652.0,216.0 L651.2,224.0 L651.8,232.0 L652.7,239.7 L654.0,247.0 L655.1,254.0 L658.0,258.5 L663.5,261.5 L668.5,260.3 L673.0,257.5 L675.5,254.0 L676.5,247.0 L676.2,239.7 L675.2,233.0 L673.9,227.2 L670.8,217.8 L670.0,208.4 L671.0,202.0 L673.1,195.8 L675.5,192.0 L678.6,189.6 L680.5,185.5 L681.2,190.0 L682.5,186.0 L684.9,180.2 L687.2,175.5 L688.8,171.5 L691.9,170.0 L699.0,171.5 L708.4,174.7 L713.9,180.2 L715.5,185.0 L716.2,189.6 L715.4,197.4 L712.5,202.5 L709.9,206.8 L710.7,211.5 L714.6,212.3 L717.0,208.5 L719.3,205.2 L724.0,202.1 L728.7,205.2 L731.0,211.5 L732.7,217.8 L735.0,227.2 L732.7,231.9 L731.0,236.0 L728.7,239.7 L726.4,244.4 L724.0,250.7 L722.5,253.0 L728.0,255.5 L735.0,256.2 L741.0,255.0 L746.0,253.5 L755.4,249.1 L761.0,244.5 L766.4,239.7 L772.5,235.0 L778.9,230.3 L783.0,226.5 L786.7,222.5 L788.0,218.5 L788.3,214.6 L786.7,212.0 L788.5,209.5 L793.0,206.5 L800.0,204.0 L808.0,202.2 L815.0,200.2 L821.0,197.5 L826.2,192.5 L825.0,187.0 L822.5,181.2 L827.5,172.5 L833.0,165.0 L838.7,158.7 L861.2,152.5 L882.5,146.2 L890.0,140.0 L895.0,135.0 L898.0,124.0 L900.0,115.0 L900.0,102.5 L902.5,94.0 L905.0,86.2 L911.0,86.0 L918.7,84.5 L926.2,87.5 L930.0,98.0 L934.0,108.0 L937.5,116.2 L945.0,117.5 L949.0,123.0 L952.5,128.7 L946.0,137.0 L940.0,145.0 L934.0,148.0 L927.5,152.5 L922.0,157.0 L917.5,162.5 L914.0,170.0 L912.5,177.5 L911.0,183.0 L910.0,187.5 L914.0,191.2 L912.0,195.0 L910.5,198.2 L913.5,200.5 L916.4,201.7 L919.5,204.0 L922.3,206.4 L922.3,207.6 L921.0,211.0 L919.9,213.5 L917.6,211.1 L915.2,214.7 L910.5,215.8 L908.2,219.4 L903.5,221.7 L895.2,225.2 L887.0,231.1 L878.8,237.0 L875.3,240.5 L873.5,245.0 L872.9,248.7 L875.3,250.0 L876.5,256.0 L877.6,263.0 L877.9,264.9 L875.0,274.7 L871.0,282.6 L869.0,284.6 L868.0,283.6 L867.1,279.7 L861.1,278.7 L857.2,276.2 L855.7,272.8 L857.0,269.0 L857.5,274.0 L858.5,278.5 L860.2,280.6 L864.1,285.6 L868.0,288.5 L869.5,294.4 L869.0,300.4 L868.0,308.3 L864.1,314.2 L863.1,323.0 L861.5,326.0 L860.0,320.0 L858.0,312.0 L855.0,305.0 L851.5,297.0 L848.5,289.0 L847.0,283.5 L845.4,282.0 L844.3,287.0 L844.8,294.0 L845.3,300.0 L846.8,305.0 L848.8,311.0 L850.8,316.0 L852.8,322.0 L855.3,328.0 L859.0,332.0 L861.1,329.9 L864.0,336.0 L867.1,341.7 L869.5,346.0 L872.0,349.6 L876.9,356.5 L877.9,362.4 L873.0,367.3 L868.0,373.3 L864.1,380.2 L859.2,378.2 L852.3,381.1 L847.3,387.1 L843.4,394.0 L842.4,398.0 L842.0,401.0 L836.0,403.5 L830.0,406.2 L826.0,413.0 L822.5,420.0 L816.0,426.5 L810.0,432.5 L805.0,437.5 L801.0,442.5 L798.5,447.5 L796.8,452.1 L795.0,458.0 L793.9,463.5 L793.5,469.0 L793.9,474.9 L794.2,481.0 L794.9,486.3 L796.5,492.0 L798.7,497.6 L802.0,503.0 L806.3,509.0 L811.5,516.0 L817.6,524.2 L821.0,529.0 L824.0,533.5 L827.5,540.0 L831.5,550.0 L835.0,560.0 L836.0,567.5 L836.2,575.0 L835.5,581.5 L833.7,587.5 L830.0,590.0 L825.0,591.2 L821.5,590.5 L818.7,588.7 L816.5,584.5 L815.0,580.0 L810.0,577.0 L805.0,575.0 L802.0,571.0 L800.0,567.5 L796.0,564.5 L792.5,562.5 L788.5,557.5 L785.0,552.5 L782.5,546.0 L781.2,540.0 L780.5,535.0 L778.7,530.0 L777.5,523.5 L776.2,517.5 L771.0,512.0 L765.0,507.5 L760.0,504.0 L755.0,501.2 L751.0,499.5 L747.5,498.7 L743.5,501.5 L740.0,505.0 L736.0,508.0 L732.5,510.0 L729.0,510.0 L726.2,508.7 L723.0,504.5 L720.0,500.0 L715.0,498.0 L710.0,497.0 L703.5,497.0 L697.5,497.5 L691.0,499.2 L685.0,501.2 L677.5,501.2 L673.5,502.2 L670.0,503.7 L665.0,504.2 L660.0,505.0 L656.0,507.0 L652.5,510.0 L651.0,515.0 L650.0,520.0 L653.5,525.5 L657.5,530.0 L655.0,532.5 L651.0,529.0 L647.5,525.0 L642.5,526.5 L637.5,528.7 L634.0,531.0 L630.0,532.5 L625.0,531.5 L620.0,530.0 L616.0,526.5 L612.5,523.7 L605.0,522.5 L597.0,522.0 L590.0,522.0 L580.0,521.8 L570.0,522.0 L561.0,524.5 L552.5,527.5 L543.5,535.0 L535.0,542.5 L526.0,547.5 L517.5,552.5 L512.0,558.5 L507.5,565.0 L505.0,572.5 L503.7,580.0 L506.0,590.0 L510.0,601.0 L505.0,605.0 L497.5,603.0 L490.0,600.0 L481.0,595.0 L472.5,590.0 L468.5,581.0 L465.0,572.5 L460.0,563.5 L455.0,555.0 L450.0,545.0 L445.0,535.0 L437.0,527.5 L430.0,522.5 L422.5,520.5 L415.0,520.0 L409.5,522.0 L405.0,525.0 L402.0,531.0 L398.7,536.2 L393.0,533.5 L387.5,530.0 L381.0,525.0 L375.0,520.0 L372.0,512.5 L370.0,505.0 L362.5,496.0 L355.0,487.5 L347.5,480.0 L340.0,472.5 L312.0,471.2 L310.0,479.5 L295.0,478.0 L257.5,472.5 L198.7,433.7 L156.2,429.2 L156.5,423.0 L156.2,417.5 L151.0,410.0 L146.2,402.5 L140.0,395.0 L132.5,388.0 L125.0,382.5 L116.0,378.5 L107.5,375.0 L106.5,366.0 L106.2,357.5 L100.5,345.0 L95.0,332.5 L96.5,327.5 L97.5,322.5 L94.0,315.0 L91.2,307.5 L92.0,301.0 L92.5,295.0 L90.0,291.0 L87.5,287.5 L84.0,278.5 L81.2,270.0 L82.0,262.5 L82.5,255.0 L80.5,247.5 L78.7,240.0 L83.5,225.0 L88.7,210.0 L89.5,198.5 L90.0,187.5 L95.0,178.5 L100.0,170.0 L106.5,153.5 L112.5,137.5 L116.0,130.0 L118.7,122.5 L118.5,113.0 L118.7,103.7 L119.0,88.0Z M876.4,247.0 L877.6,238.9 L882.0,236.2 L887.0,233.5 L892.0,230.7 L896.4,228.2 L899.9,226.4 L902.5,226.6 L905.2,227.6 L902.0,230.5 L898.8,233.5 L895.0,236.5 L891.7,239.3 L884.7,244.0Z" fill="none" stroke="#505050" stroke-width="1.45" stroke-linejoin="round"/>
<path d="M622.5,133.0 L626.0,130.0 L630.5,127.0" fill="none" stroke="#505050" stroke-width="1.5" stroke-linejoin="round" stroke-linecap="round"/>
<path d="M98.0,294.0 L102.0,295.5 L106.0,296.0 L111.4,298.6" fill="none" stroke="#505050" stroke-width="1.3" stroke-linejoin="round" stroke-linecap="round"/>
<path d="M93.5,299.5 L94.5,303.0 L96.5,306.0 L98.6,308.0" fill="none" stroke="#505050" stroke-width="2.2" stroke-linejoin="round" stroke-linecap="round"/>
<path d="M81.3,296.1 L84.8,299.6" fill="none" stroke="#505050" stroke-width="1.2" stroke-linejoin="round" stroke-linecap="round"/>
<path d="M107.5,384.5 L112.0,386.0 L116.0,385.5 L120.0,387.5 L125.0,389.0" fill="none" stroke="#505050" stroke-width="1.8" stroke-linejoin="round" stroke-linecap="round"/>
<path d="M117.5,404.0 L120.0,406.0" fill="none" stroke="#505050" stroke-width="1.6" stroke-linejoin="round" stroke-linecap="round"/>
<path d="M135.0,403.0 L137.5,405.5 L140.0,408.5" fill="none" stroke="#505050" stroke-width="2.0" stroke-linejoin="round" stroke-linecap="round"/>
<path d="M132.8,413.0 L134.5,416.0 L136.0,418.7" fill="none" stroke="#505050" stroke-width="1.6" stroke-linejoin="round" stroke-linecap="round"/>
<path d="M613.0,524.0 L620.0,529.0 L625.0,531.0 L630.6,532.5 L636.0,531.0 L639.4,529.9 L643.0,525.0 L648.0,527.0 L653.4,531.6 L657.0,529.0 L660.5,528.1 L656.0,523.5" fill="none" stroke="#505050" stroke-width="2.6" stroke-linejoin="round" stroke-linecap="round"/>
<path d="M645.0,505.0 L647.5,510.0 L650.0,516.0 L650.0,521.0" fill="none" stroke="#505050" stroke-width="2.0" stroke-linejoin="round" stroke-linecap="round"/>
<path d="M952.5,128.7 L946.0,137.0 L940.0,145.0 L934.0,148.0 L927.5,152.5 L922.0,157.0 L917.5,162.5 L914.0,170.0 L912.5,177.5" fill="none" stroke="#505050" stroke-width="2.6" stroke-linejoin="round" stroke-linecap="round"/>
<path d="M940.0,146.0 L937.0,152.0" fill="none" stroke="#505050" stroke-width="1.8" stroke-linejoin="round" stroke-linecap="round"/>
<path d="M930.0,152.0 L928.0,158.0" fill="none" stroke="#505050" stroke-width="1.8" stroke-linejoin="round" stroke-linecap="round"/>
<path d="M921.0,159.0 L920.0,165.0" fill="none" stroke="#505050" stroke-width="1.6" stroke-linejoin="round" stroke-linecap="round"/>
<path d="M795.0,458.0 L793.7,468.0 L794.0,478.0" fill="none" stroke="#505050" stroke-width="2.0" stroke-linejoin="round" stroke-linecap="round"/>
<path d="M801.0,443.0 L798.0,449.0 L795.5,456.0" fill="none" stroke="#505050" stroke-width="2.0" stroke-linejoin="round" stroke-linecap="round"/>
<path d="M822.0,421.0 L816.0,427.0 L810.0,433.0 L805.0,438.0" fill="none" stroke="#505050" stroke-width="2.0" stroke-linejoin="round" stroke-linecap="round"/>
<path d="M778.0,531.0 L781.0,540.0 L784.0,549.0" fill="none" stroke="#505050" stroke-width="1.8" stroke-linejoin="round" stroke-linecap="round"/>
<path d="M790.0,560.0 L796.0,565.0 L801.0,570.0" fill="none" stroke="#505050" stroke-width="1.8" stroke-linejoin="round" stroke-linecap="round"/>
<path d="M503.5,583.0 L505.0,572.0 L508.0,564.5 L513.0,558.0 L520.0,552.0 L526.0,548.0" fill="none" stroke="#505050" stroke-width="1.8" stroke-linejoin="round" stroke-linecap="round"/>
<path d="M910.5,215.8 L909.0,218.0 L906.0,220.5" fill="none" stroke="#505050" stroke-width="2.2" stroke-linejoin="round" stroke-linecap="round"/>
<path d="M674.7,495.5 L677.0,495.2 L679.3,503.0 L676.2,503.6Z" fill="#fefefe" stroke="#505050" stroke-width="0.8" stroke-linejoin="round"/>
<path d="M94.7,294.0 L96.5,293.0 L97.8,294.5 L96.8,296.3 L95.0,296.0Z" fill="#fefefe" stroke="#505050" stroke-width="0.8" stroke-linejoin="round"/>
<path d="M550.0,527.5 L551.0,523.5 L554.0,522.5 L555.0,526.0 L552.5,529.5Z" fill="#fefefe" stroke="#505050" stroke-width="0.8" stroke-linejoin="round"/>
<path d="M523.5,549.5 L525.5,547.0 L527.8,547.5 L526.0,550.8Z" fill="#fefefe" stroke="#505050" stroke-width="0.8" stroke-linejoin="round"/>
<path d="M506.0,566.5 L507.0,563.5 L509.3,564.0 L508.0,567.5Z" fill="#fefefe" stroke="#505050" stroke-width="0.8" stroke-linejoin="round"/>
<path d="M602.0,523.0 L604.0,520.0 L608.0,519.5 L611.0,522.0 L608.0,525.5 L604.5,525.5Z" fill="#fefefe" stroke="#505050" stroke-width="0.8" stroke-linejoin="round"/>
<path d="M656.5,508.5 L660.0,507.5 L662.8,510.5 L662.0,516.5 L659.0,520.5 L656.5,521.5 L654.8,518.0 L655.0,512.0Z" fill="#fefefe" stroke="#505050" stroke-width="0.8" stroke-linejoin="round"/>
<path d="M94.8,301.5 L96.3,305.0" fill="none" stroke="#fefefe" stroke-width="0.8" stroke-linecap="round"/>
<path d="M505.3,576.0 L504.7,585.0 L506.3,594.0 L508.7,600.0" fill="none" stroke="#fefefe" stroke-width="0.9" stroke-linecap="round"/>
<path d="M837.0,580.9 C836.7,582.4 836.4,587.2 835.2,589.7 C834.0,592.2 832.1,594.0 829.9,595.9 C827.7,597.8 824.8,599.9 822.0,601.2 C819.2,602.5 816.4,602.9 813.1,603.9 C809.9,604.9 805.5,606.6 802.5,607.4 C799.5,608.1 797.5,608.2 795.0,608.4 C792.5,608.6 788.7,608.7 787.4,608.8" fill="none" stroke="#505050" stroke-width="1.2" stroke-dasharray="1.5 1.8 0.8 1.6 2.2 1.4" stroke-linecap="round"/>
<path d="M809,604.8 L817,602.6" fill="none" stroke="#505050" stroke-width="2.4" stroke-linecap="round"/>
<circle cx="820" cy="557.3" r="1.5" fill="#fefefe"/>
<path d="M142.5,73.5 L145.0,71.0 L147.5,72.5 L150.5,74.5 L152.5,80.0 L151.0,85.0 L153.5,90.0 L152.0,94.0 L149.5,96.0 L149.8,101.0 L147.0,105.0 L143.0,108.6 L138.5,108.2 L136.0,104.5 L138.5,101.0 L141.5,96.5 L145.3,92.0 L146.0,87.0 L143.0,84.5 L145.5,81.0 L143.5,77.0Z" fill="#505050"/>
<path d="M139.8,99.5 L142.5,97.5 L145.0,98.5 L143.5,101.0 L140.8,101.5Z" fill="#cc3d1f"/>
<circle cx="146.5" cy="67.8" r="0.9" fill="#505050"/>
<path d="M119.5,104.5 L121.5,105.5 L120.5,108.0 L122.5,109.5" fill="none" stroke="#505050" stroke-width="1.6" stroke-linejoin="round" stroke-linecap="round"/>
<path d="M119.3,113.0 L121.3,114.0 L120.3,116.5 L122.0,118.0" fill="none" stroke="#505050" stroke-width="1.6" stroke-linejoin="round" stroke-linecap="round"/>
<path d="M870.5,350.5 L873.0,353.0 L876.0,357.0 L876.5,362.0 L872.0,367.0 L866.5,372.5 L864.5,378.0 L863.0,374.0 L863.5,370.0 L867.0,365.0 L869.5,360.0 L870.0,355.0Z" fill="#fefefe" stroke="#505050" stroke-width="0.9" stroke-linejoin="round"/>
<path d="M858.5,350.0 L863.0,349.0 L866.0,348.2 L869.5,348.5" fill="none" stroke="#fefefe" stroke-width="1.6" stroke-linecap="round"/>
<path d="M850.0,361.0 L854.0,362.0 L858.0,360.0 L861.0,363.0 L857.0,365.0 L853.0,364.5" fill="none" stroke="#505050" stroke-width="1.5" stroke-linejoin="round" stroke-linecap="round"/>
<path d="M851.0,371.0 L855.0,373.0 L859.0,372.5 L857.0,375.0 L853.0,374.5" fill="none" stroke="#505050" stroke-width="1.5" stroke-linejoin="round" stroke-linecap="round"/>
<path d="M838.0,306.5 L842.0,307.5 L846.0,309.5 L850.0,311.0" fill="none" stroke="#505050" stroke-width="1.5" stroke-linejoin="round" stroke-linecap="round"/>
<path d="M840.0,313.0 L845.0,316.0 L850.0,320.0 L855.0,325.0" fill="none" stroke="#505050" stroke-width="1.5" stroke-linejoin="round" stroke-linecap="round"/>
<path d="M838.0,322.0 L844.0,324.0 L850.0,328.0 L856.0,332.0" fill="none" stroke="#505050" stroke-width="1.5" stroke-linejoin="round" stroke-linecap="round"/>
<path d="M849.0,296.0 L851.0,303.0 L853.0,309.0" fill="none" stroke="#505050" stroke-width="1.5" stroke-linejoin="round" stroke-linecap="round"/>
<path d="M843.5,284.0 L845.0,292.0 L847.0,299.0 L850.0,306.0" fill="none" stroke="#505050" stroke-width="1.5" stroke-linejoin="round" stroke-linecap="round"/>
<path d="M922.3,207.0 L926.0,206.8 L929.3,206.4 L930.5,202.9 L929.5,201.0 L927.5,200.0 L925.5,200.0 L924.0,200.8" fill="none" stroke="#505050" stroke-width="1.6" stroke-linejoin="round" stroke-linecap="round"/>
<path d="M920.0,215.2 L922.5,216.8 L924.6,216.0" fill="none" stroke="#505050" stroke-width="1.5" stroke-linecap="round"/>
<path d="M928.0,215.0 L930.5,216.4 L932.8,215.2" fill="none" stroke="#505050" stroke-width="1.5" stroke-linecap="round"/>
<g fill="none" stroke="#111" stroke-width="1.4">
<path d="M9.3,788.5 L9.3,438.3 L186.3,438.3 L325.8,611.3 L642,611.3 L642,788.5 L9.3,788.5"/>
<path d="M325.8,611.3 L325.8,788.5"/><path d="M9.3,704.3 L325.8,704.3"/>
</g>
<g clip-path="url(#ak)">
<rect x="0" y="440" width="330" height="260" fill="#b1b1b7"/>
<path d="M90.0,466.0 C90.8,466.2 92.0,466.9 95.0,467.5 C98.0,468.1 103.8,469.1 108.0,469.5 C112.2,469.9 115.7,470.0 120.0,470.2 C124.3,470.4 129.4,470.5 134.0,470.5 C138.6,470.5 144.0,470.2 147.5,470.0 C151.0,469.8 153.8,469.2 155.0,469.0 L330.0,469.0 L330.0,700.0 L0.0,700.0 L0.0,466.0Z" fill="#e8b56f" stroke="#8e8780" stroke-opacity="0.8" stroke-width="0.7"/>
<path d="M60.0,493.0 C62.1,492.5 67.5,491.0 72.5,490.0 C77.5,489.0 83.3,487.8 90.0,487.0 C96.7,486.2 103.3,486.0 112.5,485.5 C121.7,485.0 134.6,484.4 145.0,484.0 C155.4,483.6 167.5,482.9 175.0,483.0 C182.5,483.1 185.2,483.8 190.0,484.5 C194.8,485.2 199.5,486.4 203.7,487.5 C207.9,488.6 213.1,490.4 215.0,491.0 L330.0,491.0 L330.0,700.0 L0.0,700.0 L0.0,493.0Z" fill="#e6914f" stroke="#8e8780" stroke-opacity="0.8" stroke-width="0.7"/>
<path d="M0.0,676.0 C3.0,674.0 12.7,669.2 18.0,664.0 C23.3,658.8 28.5,652.7 32.0,645.0 C35.5,637.3 37.3,626.8 39.0,618.0 C40.7,609.2 40.7,600.0 42.0,592.0 C43.3,584.0 44.8,576.2 47.0,570.0 C49.2,563.8 51.8,559.8 55.0,555.0 C58.2,550.2 63.2,544.8 66.2,541.2 C69.2,537.6 70.3,536.0 73.0,533.5 C75.7,531.0 79.2,528.5 82.5,526.2 C85.8,524.0 89.2,521.9 93.0,520.0 C96.8,518.1 100.2,516.6 105.0,515.0 C109.8,513.4 116.2,511.8 122.0,510.5 C127.8,509.2 134.0,508.5 140.0,507.5 C146.0,506.5 152.2,505.3 158.0,504.5 C163.8,503.7 169.7,502.8 175.0,502.5 C180.3,502.2 185.0,502.1 190.0,502.5 C195.0,502.9 200.0,504.1 205.0,505.0 C210.0,505.9 217.5,507.5 220.0,508.0 L330.0,508.0 L330.0,700.0 L0.0,700.0Z" fill="#de5b38" stroke="#8e8780" stroke-opacity="0.8" stroke-width="0.7"/>
<path d="M50.0,692.0 C52.1,688.5 59.5,678.3 62.5,671.0 C65.5,663.7 66.8,655.2 68.0,648.0 C69.2,640.8 68.5,633.9 70.0,627.7 C71.5,621.5 74.5,616.5 77.0,611.0 C79.5,605.5 82.0,600.2 85.0,595.0 C88.0,589.8 91.2,585.0 95.0,580.0 C98.8,575.0 103.0,569.7 107.5,565.0 C112.0,560.3 116.6,556.2 122.0,552.0 C127.4,547.8 134.0,543.3 140.0,540.0 C146.0,536.7 152.2,534.1 158.0,532.0 C163.8,529.9 169.5,528.6 175.0,527.5 C180.5,526.4 185.6,525.7 191.0,525.5 C196.4,525.3 201.8,525.6 207.5,526.2 C213.2,526.8 222.1,528.5 225.0,529.0 L330.0,529.0 L330.0,700.0 L50.0,700.0Z" fill="#cc3d1f" stroke="#8e8780" stroke-opacity="0.8" stroke-width="0.7"/>
<path d="M140.0,688.0 C139.9,682.5 140.0,662.8 139.5,655.0 C139.0,647.2 137.9,645.3 137.0,641.0 C136.1,636.7 134.8,632.9 134.0,629.0 C133.2,625.1 131.5,621.6 132.5,617.5 C133.5,613.4 137.1,608.7 140.0,604.5 C142.9,600.3 146.3,596.5 150.0,592.5 C153.7,588.5 157.8,584.2 162.0,580.5 C166.2,576.8 171.0,572.8 175.0,570.0 C179.0,567.2 182.2,565.4 186.0,563.5 C189.8,561.6 194.3,559.5 197.5,558.7 C200.7,557.9 202.5,558.3 205.0,558.5 C207.5,558.7 209.2,559.1 212.5,560.0 C215.8,560.9 222.9,563.3 225.0,564.0 L330.0,564.0 L330.0,700.0 L140.0,700.0Z" fill="#b52e05" stroke="#8e8780" stroke-opacity="0.8" stroke-width="0.7"/>
</g>
<path d="M126.2,454.2 L130.0,459.0 L135.0,462.5 L145.0,463.7 L150.0,468.7 L157.0,470.0 L165.0,471.2 L172.0,474.0 L180.0,476.2 L186.0,475.0 L192.5,475.0 L198.0,477.5 L203.7,480.0 L217.9,614.1 L222.6,614.7 L227.0,613.2 L232.0,612.3 L232.0,617.6 L236.7,620.0 L241.0,623.5 L245.0,627.0 L247.3,629.4 L252.0,625.9 L253.2,619.4 L258.5,615.9 L262.6,618.8 L263.8,622.3 L270.8,627.0 L277.9,631.7 L281.5,636.5 L284.9,641.1 L288.5,645.5 L292.0,649.4 L295.5,655.2 L304.9,657.6 L311.9,659.9 L314.0,664.5 L315.5,669.3 L314.5,674.0 L313.1,677.6 L308.4,679.9 L301.4,681.1 L295.5,684.6 L288.4,679.9 L282.6,672.9 L280.2,669.3 L275.5,667.0 L270.8,661.1 L263.8,655.2 L256.7,645.8 L254.4,638.8 L245.0,634.1 L240.3,629.4 L233.5,626.0 L227.3,623.5 L220.3,622.3 L214.4,619.4 L213.1,617.4 L206.0,618.5 L199.4,620.1 L194.0,622.8 L191.2,616.0 L183.0,613.3 L181.0,619.0 L176.0,623.5 L170.0,621.0 L165.5,623.0 L163.9,620.1 L158.4,621.5 L155.7,626.9 L147.5,629.7 L142.0,633.8 L138.6,632.4 L139.2,628.3 L144.7,624.2 L142.0,617.4 L144.7,611.9 L150.2,603.7 L146.0,607.0 L142.0,610.5 L136.5,616.0 L131.0,620.1 L125.6,628.3 L122.8,632.4 L126.9,636.5 L122.8,642.0 L117.4,647.5 L109.2,652.9 L100.9,659.8 L94.1,665.2 L85.0,668.0 L76.0,672.0 L67.5,676.0 L61.0,679.0 L54.0,677.5 L50.0,681.0 L44.0,681.0 L40.0,684.0 L33.0,684.0 L27.0,686.5 L25.0,689.0 L17.0,690.0 L10.0,691.0 L10.5,688.0 L18.0,686.0 L25.0,683.7 L30.0,681.0 L37.5,679.0 L45.0,676.0 L52.5,673.0 L60.0,670.0 L67.5,667.0 L75.0,664.0 L82.5,660.5 L88.0,656.5 L92.5,652.5 L95.0,644.0 L97.5,636.2 L92.0,637.0 L86.2,637.5 L80.0,632.5 L72.0,630.5 L65.0,627.5 L64.0,620.0 L63.7,613.7 L58.0,612.5 L53.7,610.0 L50.0,605.0 L46.2,600.0 L48.7,595.0 L45.5,588.0 L43.7,582.5 L47.5,575.0 L53.0,568.0 L60.0,562.5 L67.5,563.7 L75.0,560.5 L82.5,557.5 L85.5,552.0 L87.5,547.5 L82.5,543.7 L75.0,543.5 L67.5,542.5 L61.0,541.5 L56.2,540.0 L55.0,535.0 L53.7,530.0 L50.0,525.0 L47.5,521.2 L61.0,518.0 L75.0,515.0 L76.0,519.0 L82.0,523.5 L88.7,522.5 L88.0,516.5 L87.5,511.2 L83.0,511.0 L80.0,510.0 L77.5,503.0 L75.0,497.5 L71.0,491.5 L67.5,486.2 L70.0,481.2 L78.0,480.5 L86.2,478.7 L90.0,473.0 L95.0,467.5 L102.0,464.5 L110.0,461.2 L118.0,457.5Z M16.2,540.0 L19.0,541.0 L22.0,547.0 L27.0,549.0 L33.7,553.7 L30.0,555.5 L25.0,552.5 L21.0,548.5 L16.5,546.0Z M30.0,598.7 L36.0,598.0 L41.0,600.5 L41.2,605.0 L36.5,607.0 L32.5,603.5Z M114.6,657.0 L118.5,654.0 L122.8,651.6 L127.0,646.5 L131.0,642.0 L134.5,643.5 L137.9,646.1 L133.8,651.6 L135.1,658.4 L128.3,662.5 L121.5,666.6 L117.4,670.7 L113.3,671.4 L117.4,664.6 L115.3,661.1Z" fill="none" stroke="#505050" stroke-width="1.2" stroke-linejoin="round"/>
<path d="M251.0,628.0 L254.4,631.0 L258.0,637.0 L262.0,635.0 L265.0,641.0 L269.0,639.0 L273.0,646.0 L277.0,644.0 L280.0,651.0 L284.0,649.0 L287.0,656.0 L291.0,656.0 L294.0,662.0 L299.0,661.0 L303.0,666.0 L308.0,665.0 L311.0,670.0 L313.5,673.0 L313.1,677.6 L308.4,679.9 L301.4,681.1 L295.5,684.6 L288.4,679.9 L282.6,672.9 L280.2,669.3 L275.5,667.0 L270.8,661.1 L263.8,655.2 L256.7,645.8 L254.4,638.8 L248.0,635.5 L247.0,630.0Z" fill="#505050" fill-opacity="0.92"/>
<path d="M259.0,641.0 L262.0,639.5 L264.0,643.0 L261.5,645.5Z" fill="#b52e05"/>
<path d="M264.0,648.0 L267.5,646.5 L269.0,651.0 L266.0,652.5Z" fill="#b52e05"/>
<path d="M273.0,652.0 L277.0,651.0 L279.0,656.0 L275.5,658.0Z" fill="#b52e05"/>
<path d="M281.0,658.0 L284.5,657.0 L286.5,662.0 L283.0,663.5Z" fill="#b52e05"/>
<path d="M287.5,665.5 L291.5,664.5 L293.5,670.0 L290.0,672.0Z" fill="#b52e05"/>
<path d="M296.5,667.5 L300.0,666.5 L302.0,672.0 L298.5,674.0Z" fill="#b52e05"/>
<path d="M304.0,670.0 L307.5,669.0 L309.5,674.0 L306.0,676.0Z" fill="#b52e05"/>
<path d="M290.0,675.5 L293.5,675.0 L295.0,679.5 L292.0,680.0Z" fill="#b52e05"/>
<path d="M269.0,657.0 L271.5,656.0 L273.0,660.5 L270.5,661.0Z" fill="#b52e05"/>
<path d="M275.0,647.0 L276.5,654.0 L277.5,661.0 L279.5,668.0" fill="none" stroke="#fefefe" stroke-width="1.1" stroke-linecap="round"/>
<path d="M268.5,643.5 L270.0,648.0 L272.0,652.0" fill="none" stroke="#fefefe" stroke-width="1.1" stroke-linecap="round"/>
<path d="M281.0,662.0 L283.0,669.0" fill="none" stroke="#fefefe" stroke-width="1.1" stroke-linecap="round"/>
<path d="M299.0,675.0 L300.0,679.0" fill="none" stroke="#fefefe" stroke-width="1.1" stroke-linecap="round"/>
<path d="M163.9,607.0 L170.0,605.0 L178.0,606.5 L183.0,610.0 L183.5,616.0 L180.5,621.0 L175.5,624.0 L169.5,622.0 L164.5,623.5 L162.5,618.0 L165.0,612.0Z" fill="#505050"/>
<path d="M172.5,613.3 L177,613.3 M174.8,611 L174.8,615.8 M173,611.5 L176.5,615 M176.5,611.5 L173,615" stroke="#fefefe" stroke-width="1.1" fill="none"/>
<circle cx="180.3" cy="629.7" r="0.9" fill="#505050"/><circle cx="96.8" cy="673.4" r="0.9" fill="#505050"/><circle cx="105" cy="679.6" r="1" fill="#505050"/>
<path d="M116.0,668.0 L120.0,664.0 L124.0,661.0 L128.0,657.5 L131.5,653.0" fill="none" stroke="#505050" stroke-width="1.5" stroke-linejoin="round" stroke-linecap="round"/>
<path d="M118.0,658.0 L122.0,655.5 L126.0,651.0 L130.0,646.5" fill="none" stroke="#505050" stroke-width="1.5" stroke-linejoin="round" stroke-linecap="round"/>
<path d="M121.0,666.0 L126.0,663.5 L131.0,660.0" fill="none" stroke="#505050" stroke-width="1.5" stroke-linejoin="round" stroke-linecap="round"/>
<path d="M124.0,653.5 L128.0,654.5 L132.0,650.5" fill="none" stroke="#505050" stroke-width="1.5" stroke-linejoin="round" stroke-linecap="round"/>
<path d="M44.0,684.0 L50.0,686.0 L56.0,683.0 L62.0,685.0 L68.0,681.0" fill="none" stroke="#505050" stroke-width="1.5" stroke-linejoin="round" stroke-linecap="round"/>
<path d="M52.0,689.0 L58.0,688.0 L63.0,690.0 L68.0,687.0 L72.0,689.0" fill="none" stroke="#505050" stroke-width="1.5" stroke-linejoin="round" stroke-linecap="round"/>
<path d="M72.0,674.5 L79.0,671.5 L86.0,668.5 L93.0,665.5 L100.0,660.5" fill="none" stroke="#505050" stroke-width="1.5" stroke-linejoin="round" stroke-linecap="round"/>
<path d="M218.0,617.0 L222.0,620.0 L227.0,619.0 L231.0,622.0" fill="none" stroke="#505050" stroke-width="1.5" stroke-linejoin="round" stroke-linecap="round"/>
<path d="M236.0,622.0 L240.0,626.0 L245.0,630.0 L250.0,632.0" fill="none" stroke="#505050" stroke-width="1.5" stroke-linejoin="round" stroke-linecap="round"/>
<path d="M253.0,622.0 L256.0,627.0 L260.0,624.0 L263.0,629.0" fill="none" stroke="#505050" stroke-width="1.5" stroke-linejoin="round" stroke-linecap="round"/>
<path d="M139.0,632.5 L143.0,632.0 L147.5,629.5 L152.0,628.0 L156.0,626.0" fill="none" stroke="#505050" stroke-width="1.5" stroke-linejoin="round" stroke-linecap="round"/>
<path d="M156.0,625.0 L158.5,621.5 L163.0,620.5" fill="none" stroke="#505050" stroke-width="1.5" stroke-linejoin="round" stroke-linecap="round"/>
<path d="M183.0,613.5 L187.0,615.5 L191.0,616.5 L193.5,622.0" fill="none" stroke="#505050" stroke-width="1.5" stroke-linejoin="round" stroke-linecap="round"/>
<path d="M15.0,713.0 L19.0,712.5 L23.0,714.0 L26.0,717.0 L27.5,720.0 L23.0,719.5 L19.0,718.0 L16.5,716.0Z" fill="#e6914f" stroke="#505050" stroke-width="0.9" stroke-linejoin="round"/>
<path d="M32.2,723.0 L34.0,723.6 L36.9,726.0 L35.0,725.6Z" fill="#505050" stroke="#505050" stroke-width="0.9" stroke-linejoin="round"/>
<path d="M23.3,728.3 L27.0,727.3 L30.7,727.8 L28.5,731.3 L25.5,730.5Z" fill="#e6914f" stroke="#505050" stroke-width="0.9" stroke-linejoin="round"/>
<path d="M56.0,739.0 L57.8,739.6 L58.8,741.4 L57.0,740.8Z" fill="#505050" stroke="#505050" stroke-width="0.9" stroke-linejoin="round"/>
<path d="M71.3,755.5 L74.0,754.0 L76.5,753.5 L78.5,751.6 L80.2,753.0 L80.7,756.5 L77.0,756.0 L73.5,757.0Z" fill="#505050" stroke="#505050" stroke-width="0.9" stroke-linejoin="round"/>
<path d="M84.5,754.7 L87.0,755.6 L90.0,757.2 L91.6,759.4 L88.5,758.5 L85.5,756.6Z" fill="#505050" stroke="#505050" stroke-width="0.9" stroke-linejoin="round"/>
<path d="M85.3,760.2 L87.2,760.6 L87.8,762.2 L86.0,761.6Z" fill="#505050" stroke="#505050" stroke-width="0.9" stroke-linejoin="round"/>
<path d="M89.2,765.2 L91.5,765.0 L94.0,767.6 L97.0,771.0 L101.0,774.0 L99.5,774.9 L96.0,773.2 L93.0,770.0 L90.5,767.5Z" fill="#505050" stroke="#505050" stroke-width="0.9" stroke-linejoin="round"/>
<path d="M103.0,762.0 L104.5,760.3 L106.5,760.3 L108.0,762.2 L107.2,764.0 L104.8,764.4Z" fill="#e6914f" stroke="#505050" stroke-width="0.9" stroke-linejoin="round"/>
<path d="M124.4,770.0 L125.8,768.7 L127.5,769.8 L126.8,771.5 L125.0,771.4Z" fill="#e6914f" stroke="#505050" stroke-width="0.9" stroke-linejoin="round"/>
<path d="M119.0,781.5 L120.5,780.0 L122.8,779.0 L121.8,781.0 L120.0,782.3Z" fill="#505050" stroke="#505050" stroke-width="0.9" stroke-linejoin="round"/>
<path d="M121.0,775.0 L123.0,774.5 L125.0,775.6 L128.0,775.2 L128.5,776.5 L124.0,776.8Z" fill="#505050" stroke="#505050" stroke-width="0.9" stroke-linejoin="round"/>
<path d="M134.5,770.0 L137.0,768.9 L139.5,770.5 L141.0,773.2 L144.0,773.8 L147.0,772.2 L149.5,771.0 L150.5,773.0 L148.5,776.5 L144.5,777.3 L140.0,776.3 L136.5,774.2Z" fill="#e6914f" stroke="#505050" stroke-width="0.9" stroke-linejoin="round"/>
<path d="M151.5,776.0 L154.0,772.8 L157.0,771.5 L159.5,772.5 L162.0,770.5 L165.0,770.3 L168.0,772.0 L170.0,774.5 L166.0,775.8 L161.5,777.0 L157.0,778.5 L153.0,779.5Z" fill="#e6914f" stroke="#505050" stroke-width="0.9" stroke-linejoin="round"/>
<path d="M168.0,774.0 L173.0,773.2 L178.0,772.7 L183.0,771.8 L188.0,771.0 L190.0,768.0 L192.5,767.0 L194.5,768.7 L194.0,771.5 L198.0,773.0 L203.0,774.5 L208.6,775.8 L208.0,777.0 L202.0,776.6 L196.0,775.6 L190.0,774.4 L184.0,774.5 L178.0,775.0 L172.0,775.6Z" fill="#505050" stroke="#505050" stroke-width="0.9" stroke-linejoin="round"/>
<path d="M190.2,769.4 L191.5,767.8 L193.3,767.9 L194.0,769.6 L192.8,771.0 L191.0,770.9Z" fill="#e6914f" stroke="#505050" stroke-width="0.9" stroke-linejoin="round"/>
<path d="M213.3,772.0 L215.5,770.5 L218.3,770.6 L218.8,772.3 L216.3,773.4 L214.0,773.4Z" fill="#e6914f" stroke="#505050" stroke-width="0.9" stroke-linejoin="round"/>
<path d="M232.0,769.3 L233.5,767.6 L235.0,767.8 L234.3,769.8 L232.8,770.4Z" fill="#505050" stroke="#505050" stroke-width="0.9" stroke-linejoin="round"/>
<path d="M239.0,767.5 L241.0,765.6 L243.5,765.4 L243.8,767.5 L241.5,768.9Z" fill="#e6914f" stroke="#505050" stroke-width="0.9" stroke-linejoin="round"/>
<path d="M248.5,764.0 L250.5,761.5 L253.0,760.8 L254.5,757.8 L256.3,759.0 L255.6,763.5 L252.5,764.8 L250.0,765.6Z" fill="#505050" stroke="#505050" stroke-width="0.9" stroke-linejoin="round"/>
<path d="M261.8,765.6 L264.5,762.5 L267.5,757.5 L270.5,755.0 L273.5,752.0 L275.5,749.0 L279.0,748.4 L281.8,750.0 L281.0,753.0 L277.5,755.0 L274.5,757.5 L271.0,760.0 L267.5,762.0 L264.5,764.0Z" fill="#de5b38" stroke="#505050" stroke-width="0.9" stroke-linejoin="round"/>
<path d="M279.0,755.3 L282.0,753.0 L285.0,752.3 L288.5,751.0 L290.0,749.0 L292.0,747.5 L291.0,743.5 L293.0,740.5 L296.5,738.8 L300.0,739.2 L302.5,741.0 L304.5,740.0 L305.5,742.0 L303.5,745.5 L300.5,747.5 L297.5,750.5 L293.5,752.5 L289.0,753.3 L285.0,754.5 L281.0,756.0Z" fill="#de5b38" stroke="#505050" stroke-width="0.9" stroke-linejoin="round"/>
<path d="M304.7,736.6 L306.5,734.0 L309.0,733.3 L310.5,735.5 L313.0,734.0 L314.5,731.8 L316.5,733.0 L315.5,736.2 L319.0,735.3 L322.7,733.5 L321.5,736.0 L317.0,737.8 L312.5,738.3 L308.5,737.3Z" fill="#505050" stroke="#505050" stroke-width="0.9" stroke-linejoin="round"/>
<path d="M307.0,735.8 L308.5,734.3 L309.8,735.5 L308.8,737.0Z" fill="#de5b38" stroke="#505050" stroke-width="0.9" stroke-linejoin="round"/>
<path d="M320.3,727.0 L321.3,723.0 L323.3,720.5 L325.0,718.8 L325.0,730.5 L322.5,730.0Z" fill="#de5b38" stroke="#505050" stroke-width="0.9" stroke-linejoin="round"/>
<path d="M333.0,646.0 L335.0,640.0 L339.0,634.5 L342.5,634.0 L342.0,639.0 L338.5,642.0 L336.0,647.0Z" fill="#e6914f" stroke="#505050" stroke-width="1.5" stroke-linejoin="round"/>
<path d="M356.2,629.0 L358.0,622.0 L364.0,618.5 L372.0,617.5 L379.0,618.5 L381.2,624.0 L380.5,631.0 L376.0,637.0 L369.0,638.5 L362.0,636.0 L357.5,633.0Z" fill="#e6914f" stroke="#505050" stroke-width="1.5" stroke-linejoin="round"/>
<path d="M438.7,646.7 L446.0,644.5 L450.0,640.0 L453.7,638.0 L457.0,641.5 L461.2,645.5 L465.0,650.0 L468.7,653.0 L472.0,656.0 L473.7,659.2 L469.0,661.0 L465.0,661.7 L461.0,659.5 L457.5,659.2 L453.5,661.0 L450.0,661.7 L446.0,657.5 L442.5,653.0Z" fill="#e6914f" stroke="#505050" stroke-width="1.5" stroke-linejoin="round"/>
<path d="M492.5,666.7 L493.5,663.0 L495.0,660.5 L500.0,661.5 L505.0,661.7 L508.0,660.0 L511.2,659.2 L517.5,660.0 L523.7,660.5 L523.5,662.5 L522.5,664.2 L519.0,666.0 L515.0,666.7 L508.5,667.5 L502.5,667.5Z" fill="#e6914f" stroke="#505050" stroke-width="1.5" stroke-linejoin="round"/>
<path d="M507.5,676.7 L511.0,675.2 L515.0,675.0 L518.5,676.7 L521.2,679.2 L519.5,683.0 L516.2,685.5 L513.5,684.8 L511.2,683.0 L509.0,680.0Z" fill="#e6914f" stroke="#505050" stroke-width="1.5" stroke-linejoin="round"/>
<path d="M526.2,671.7 L528.5,668.5 L531.2,666.7 L534.5,669.0 L537.5,673.0 L542.0,670.5 L547.5,669.2 L554.0,671.0 L560.0,674.2 L563.5,676.5 L566.2,679.2 L564.0,683.0 L560.0,685.5 L552.5,688.5 L545.0,690.5 L542.0,687.5 L540.0,684.2 L536.0,681.5 L532.5,679.2 L529.5,678.0 L527.5,676.7Z" fill="#e6914f" stroke="#505050" stroke-width="1.5" stroke-linejoin="round"/>
<path d="M528.7,695.5 L532.0,692.5 L535.0,690.5 L537.5,694.2 L534.5,696.0 L531.2,696.7Z" fill="#e6914f" stroke="#505050" stroke-width="1.5" stroke-linejoin="round"/>
<path d="M573.7,706.7 L577.0,705.0 L580.0,705.0 L585.0,707.5 L590.0,710.5 L597.5,712.0 L605.0,713.0 L612.5,717.0 L620.0,721.7 L621.5,726.0 L622.5,730.5 L629.0,733.5 L636.2,738.0 L632.0,743.0 L627.5,748.0 L620.0,752.5 L612.5,756.7 L607.5,761.0 L602.5,765.5 L598.5,772.0 L595.0,778.0 L588.5,776.0 L582.5,773.0 L581.0,764.0 L580.0,755.5 L577.5,750.5 L575.0,745.5 L571.5,740.5 L568.7,735.5 L569.5,731.5 L571.2,728.0 L574.5,723.0 L577.5,718.0 L576.0,712.0Z" fill="#e6914f" stroke="#505050" stroke-width="1.5" stroke-linejoin="round"/>
<text x="229.5" y="258.2" font-size="19" font-weight="bold" text-anchor="start" textLength="55.5" lengthAdjust="spacingAndGlyphs" fill="#111" stroke="#fff" stroke-width="3.2" stroke-linejoin="round" paint-order="stroke">Above</text>
<text x="591.2" y="170" font-size="19" font-weight="bold" text-anchor="start" textLength="40" lengthAdjust="spacingAndGlyphs" fill="#111" stroke="#fff" stroke-width="3.2" stroke-linejoin="round" paint-order="stroke">Near</text>
<text x="580" y="190" font-size="19" font-weight="bold" text-anchor="start" textLength="61" lengthAdjust="spacingAndGlyphs" fill="#111" stroke="#fff" stroke-width="3.2" stroke-linejoin="round" paint-order="stroke">Normal</text>
<text x="805.5" y="237.5" font-size="19" font-weight="bold" text-anchor="start" textLength="52" lengthAdjust="spacingAndGlyphs" fill="#111" stroke="#fff" stroke-width="3.2" stroke-linejoin="round" paint-order="stroke">Below</text>
<text x="782.5" y="555.7" font-size="19" font-weight="bold" text-anchor="start" textLength="52" lengthAdjust="spacingAndGlyphs" fill="#111" stroke="#fff" stroke-width="3.2" stroke-linejoin="round" paint-order="stroke">Below</text>
<text x="158" y="601.2" font-size="19" font-weight="bold" text-anchor="start" textLength="54.5" lengthAdjust="spacingAndGlyphs" fill="#111" stroke="#fff" stroke-width="3.2" stroke-linejoin="round" paint-order="stroke">Above</text>
<text x="194.2" y="41.3" font-size="46" fill="#0a0a14" textLength="633" lengthAdjust="spacingAndGlyphs">8-14 Day Temperature Outlook</text>
<text x="391" y="72" font-size="22" font-weight="bold" fill="#111" stroke="#111" stroke-width="0.45" textLength="58" lengthAdjust="spacingAndGlyphs">Valid:</text>
<text x="464" y="72" font-size="22" fill="#111" textLength="197.7" lengthAdjust="spacingAndGlyphs">February 4 - 10, 2026</text>
<text x="391" y="96.7" font-size="22" font-weight="bold" fill="#111" stroke="#111" stroke-width="0.45" textLength="76" lengthAdjust="spacingAndGlyphs">Issued:</text>
<text x="480.6" y="96.7" font-size="22" fill="#111" textLength="156.5" lengthAdjust="spacingAndGlyphs">January 27, 2026</text>
<text x="123.7" y="718.7" font-size="10.3" font-weight="bold" fill="#111" textLength="79" lengthAdjust="spacingAndGlyphs">Aleutian Islands</text>
<text x="213.7" y="725.7" font-size="12.5" font-weight="bold" fill="#111" textLength="38.3" lengthAdjust="spacingAndGlyphs">Above</text>
<path d="M260,720.5 L292.5,742.5" stroke="#111" stroke-width="1.2" fill="none"/>
<text x="588.7" y="670" font-size="12.5" font-weight="bold" fill="#111" textLength="38.3" lengthAdjust="spacingAndGlyphs">Above</text>
<path d="M580.3,665.5 L580.3,705" stroke="#111" stroke-width="1.2" fill="none"/>
<text x="833.2" y="629.7" font-size="15.6" font-weight="bold" fill="#111" text-anchor="middle">Probability</text>
<text x="833.4" y="647.6" font-size="15.6" font-weight="bold" fill="#111" text-anchor="middle">(Percent Chance)</text>
<text x="721.3" y="667" font-size="12.3" font-weight="bold" fill="#111" textLength="85" lengthAdjust="spacingAndGlyphs">Above Normal</text>
<text x="860.8" y="667" font-size="12.3" font-weight="bold" fill="#111" textLength="83" lengthAdjust="spacingAndGlyphs">Below Normal</text>
<rect x="721.2" y="673.6" width="25.3" height="12" fill="#e8b56f"/>
<rect x="918.3" y="673.6" width="25.3" height="12" fill="#c5cfea"/>
<text x="750.3" y="683.9" font-size="11" fill="#111">33-40%</text>
<text x="913.7" y="683.9" font-size="11" fill="#111" text-anchor="end">33-40%</text>
<rect x="721.2" y="689.8" width="25.3" height="12" fill="#e6914f"/>
<rect x="918.3" y="689.8" width="25.3" height="12" fill="#a7c4e3"/>
<text x="750.3" y="700.1" font-size="11" fill="#111">40-50%</text>
<text x="913.7" y="700.1" font-size="11" fill="#111" text-anchor="end">40-50%</text>
<rect x="721.2" y="706.0" width="25.3" height="12" fill="#de5b38"/>
<rect x="918.3" y="706.0" width="25.3" height="12" fill="#7ab6e5"/>
<text x="750.3" y="716.3" font-size="11" fill="#111">50-60%</text>
<text x="913.7" y="716.3" font-size="11" fill="#111" text-anchor="end">50-60%</text>
<rect x="721.2" y="722.2" width="25.3" height="12" fill="#cc3d1f"/>
<rect x="918.3" y="722.2" width="25.3" height="12" fill="#3b9ddd"/>
<text x="750.3" y="732.5" font-size="11" fill="#111">60-70%</text>
<text x="913.7" y="732.5" font-size="11" fill="#111" text-anchor="end">60-70%</text>
<rect x="721.2" y="738.4" width="25.3" height="12" fill="#b52e05"/>
<rect x="918.3" y="738.4" width="25.3" height="12" fill="#0b5ca8"/>
<text x="750.3" y="748.7" font-size="11" fill="#111">70-80%</text>
<text x="913.7" y="748.7" font-size="11" fill="#111" text-anchor="end">70-80%</text>
<rect x="721.2" y="754.6" width="25.3" height="12" fill="#8c2509"/>
<rect x="918.3" y="754.6" width="25.3" height="12" fill="#2a1c66"/>
<text x="750.3" y="764.9" font-size="11" fill="#111">80-90%</text>
<text x="913.7" y="764.9" font-size="11" fill="#111" text-anchor="end">80-90%</text>
<rect x="721.2" y="770.8" width="25.3" height="12" fill="#752006"/>
<rect x="918.3" y="770.8" width="25.3" height="12" fill="#1d154d"/>
<text x="750.3" y="781.1" font-size="11" fill="#111">90-100%</text>
<text x="913.7" y="781.1" font-size="11" fill="#111" text-anchor="end">90-100%</text>
<text x="833.4" y="686.8" font-size="12.3" font-weight="bold" fill="#111" text-anchor="middle">Near</text>
<text x="833" y="701.5" font-size="12.3" font-weight="bold" fill="#111" text-anchor="middle">Normal</text>
<rect x="820.8" y="708.9" width="25" height="12.2" fill="#a9a9a9"/>
<text x="678.3" y="684.4" font-size="10.8" fill="#111" text-anchor="middle">Leaning</text>
<text x="678.3" y="697.6" font-size="10.8" fill="#111" text-anchor="middle">Above</text>
<text x="678.3" y="743.4" font-size="10.8" fill="#111" text-anchor="middle">Likely</text>
<text x="678.3" y="756.5" font-size="10.8" fill="#111" text-anchor="middle">Above</text>
<text x="987" y="684.4" font-size="10.8" fill="#111" text-anchor="middle">Leaning</text>
<text x="987" y="697.6" font-size="10.8" fill="#111" text-anchor="middle">Below</text>
<text x="987" y="743.4" font-size="10.8" fill="#111" text-anchor="middle">Likely</text>
<text x="987" y="756.5" font-size="10.8" fill="#111" text-anchor="middle">Below</text>
<g fill="none" stroke="#222" stroke-width="0.9">
<path d="M720.6,673 C713.4,673 711,675.5 711,680 L711,680.5 C711,685.0 703.9,687.5 700,687.5 C703.9,687.5 711,690.0 711,694.5 L711,695 C711,699.5 713.4,702 720.6,702"/>
<path d="M720.6,705.6 C713.4,705.6 711,709.5 711,716.6 L711,733 C711,740.1 703.9,744 700,744 C703.9,744 711,747.9 711,755 L711,772.2 C711,779.4 713.4,783.2 720.6,783.2"/>
<path d="M946.5,673 C953.6,673 956,675.5 956,680 L956,680.5 C956,685.0 962.5,687.5 966,687.5 C962.5,687.5 956,690.0 956,694.5 L956,695 C956,699.5 953.6,702 946.5,702"/>
<path d="M946.5,705.6 C953.6,705.6 956,709.5 956,716.6 L956,733 C956,740.1 962.5,744 966,744 C962.5,744 956,747.9 956,755 L956,772.2 C956,779.4 953.6,783.2 946.5,783.2"/>
</g>
<g>
<circle cx="46.9" cy="36.9" r="26.4" fill="#1b9ad8"/><circle cx="46.9" cy="36.9" r="20.6" fill="#fefefe"/>
<path id="sealtop" d="M25.16,34.23 A21.9,21.9 0 0 1 68.64,34.23" fill="none"/>
<path id="sealbot" d="M22.25,42.14 A25.2,25.2 0 0 0 71.55,42.14" fill="none"/>
<text font-size="4.3" font-weight="bold" fill="#f2fafe" letter-spacing="0.1"><textPath href="#sealtop" startOffset="50%" text-anchor="middle">DEPARTMENT OF COMMERCE</textPath></text>
<text font-size="4.3" font-weight="bold" fill="#f2fafe" letter-spacing="0.1"><textPath href="#sealbot" startOffset="50%" text-anchor="middle">UNITED STATES OF AMERICA</textPath></text>
<circle cx="23.3" cy="36.9" r="0.8" fill="#f2fafe"/><circle cx="70.5" cy="36.9" r="0.8" fill="#f2fafe"/>
<path d="M35.5,32.5 L58,32.5 L58,48 Q57,53 46.8,55.3 Q36.5,53 35.5,48Z" fill="#e6be1e" stroke="#6d7d84" stroke-width="0.9"/>
<path d="M36,33 L57.5,33 L57.5,43.3 L36,43.3Z" fill="#1e8fd0"/>
<path d="M39.8,40 L53.8,40 L52.6,41.8 L41.2,41.8Z" fill="#e9eef2"/>
<path d="M41.5,39.6 L43.5,36 L45.5,39.6Z M45,39.6 L47,34.6 L49.2,39.6Z M48.8,39.6 L50.6,35.4 L52.8,39.6Z" fill="#f4f7f9" stroke="#9db2bd" stroke-width="0.3"/>
<path d="M46.1,44 L47.6,44 L47.6,54.6 L46.1,54.6Z" fill="#8a8f8f"/>
<path d="M39.8,20 L42.5,21.8 L45.2,25.5 L46.2,23.2 L47.6,23.2 L48.6,25.5 L51.3,21.8 L54,20 L52.5,24.5 L50.3,28.5 L48.8,31 L45,31 L43.5,28.5 L41.3,24.5Z" fill="#c9a227"/>
<circle cx="46.9" cy="24" r="1.1" fill="#efe6c8"/>
<rect x="42.5" y="30.8" width="9" height="1.8" fill="#8e8e7a"/>
</g>
<g>
<clipPath id="nc"><circle cx="977.5" cy="36.9" r="27.8"/></clipPath>
<circle cx="977.5" cy="36.9" r="27.8" fill="#1a8fd2"/>
<g clip-path="url(#nc)">
<path d="M940,29.9 L949.9,29.9 C954.4,31 958,34 960.3,36.3 C964,40 969,44 973.1,44.6 L968.8,48.4 C975,47.6 982,45.6 989.6,43.4 L986.3,42.7 C991,40 995,35.5 997.8,31.6 C1000,28.5 1002,26.5 1004.5,23.8 L1015,22 L1015,0 L940,0Z" fill="#fefefe"/>
<path d="M955,20.5 C958,23 961.5,28.5 964.9,32.8 C968,36.5 973.5,41.8 979,42.2 C984.5,42 988.5,36.5 990.7,32.8 C993.5,28.5 996,23.5 998.9,20.5 L1006,0 L950,0Z" fill="#0b3188"/>
</g>
<text x="977.3" y="27.8" font-size="10" font-weight="bold" fill="#fefefe" text-anchor="middle" textLength="23" lengthAdjust="spacingAndGlyphs">NOAA</text>
</g>
</svg></body></html>
